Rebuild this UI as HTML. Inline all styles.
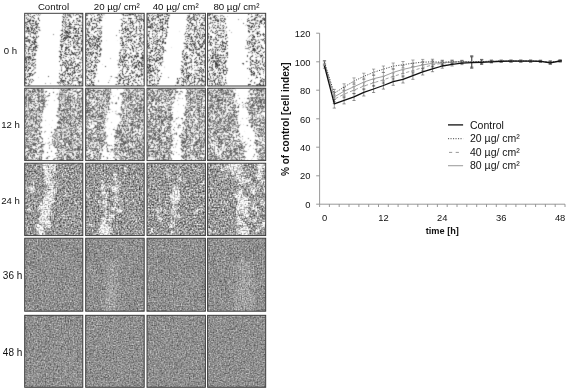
<!DOCTYPE html><html><head><meta charset="utf-8"><title>figure</title><style>html,body{margin:0;padding:0;background:#fff}svg{display:block}text{font-family:"Liberation Sans",sans-serif;fill:#111}</style></head><body>
<svg width="567" height="389" viewBox="0 0 567 389">
<defs>
<clipPath id="c00"><rect x="24.7" y="13.3" width="58.1" height="72.7"/></clipPath>
<filter id="f00" filterUnits="userSpaceOnUse" x="19.7" y="8.3" width="68.1" height="82.7" color-interpolation-filters="sRGB"><feGaussianBlur in="SourceGraphic" stdDeviation="1.0" result="d"/><feTurbulence type="fractalNoise" baseFrequency="0.38" numOctaves="2" seed="1" result="n"/><feColorMatrix in="n" type="matrix" values="1 0 0 0 0 1 0 0 0 0 1 0 0 0 0 0 0 0 0 1" result="ng"/><feTurbulence type="fractalNoise" baseFrequency="0.07" numOctaves="3" seed="31" result="m"/><feColorMatrix in="m" type="matrix" values="1 0 0 0 0 1 0 0 0 0 1 0 0 0 0 0 0 0 0 1" result="mg"/><feComposite in="d" in2="mg" operator="arithmetic" k1="0" k2="1" k3="0.5" k4="-0.250" result="d2"/><feComposite in="d2" in2="ng" operator="arithmetic" k1="0" k2="1" k3="1" k4="-0.44" result="s"/><feComponentTransfer in="s" result="t"><feFuncR type="table" tableValues="1 1 1 1 1 1 1 1 1 1 1 1 1 1 1 1 1 1 1 1 1 1 1 1 1 1 1 1 1 1 1 1 1 1 1 1 1 1 1 1 1 1 1 1 1 1 1 0.91 0.82 0.74 0.65 0.56 0.47 0.38 0.3 0.21 0.12 0.21 0.3 0.38 0.47 0.56 0.65 0.74 0.82 0.91 1 1 1 1 1 1 1 1 1 1 1 1 1 1 1 1 1 1 1 1 1 1 1 1 1 1 1 1 1 1 1 1 1 1 1"/><feFuncG type="table" tableValues="1 1 1 1 1 1 1 1 1 1 1 1 1 1 1 1 1 1 1 1 1 1 1 1 1 1 1 1 1 1 1 1 1 1 1 1 1 1 1 1 1 1 1 1 1 1 1 0.91 0.82 0.74 0.65 0.56 0.47 0.38 0.3 0.21 0.12 0.21 0.3 0.38 0.47 0.56 0.65 0.74 0.82 0.91 1 1 1 1 1 1 1 1 1 1 1 1 1 1 1 1 1 1 1 1 1 1 1 1 1 1 1 1 1 1 1 1 1 1 1"/><feFuncB type="table" tableValues="1 1 1 1 1 1 1 1 1 1 1 1 1 1 1 1 1 1 1 1 1 1 1 1 1 1 1 1 1 1 1 1 1 1 1 1 1 1 1 1 1 1 1 1 1 1 1 0.91 0.82 0.74 0.65 0.56 0.47 0.38 0.3 0.21 0.12 0.21 0.3 0.38 0.47 0.56 0.65 0.74 0.82 0.91 1 1 1 1 1 1 1 1 1 1 1 1 1 1 1 1 1 1 1 1 1 1 1 1 1 1 1 1 1 1 1 1 1 1 1"/></feComponentTransfer><feConvolveMatrix in="t" order="3" kernelMatrix="1 4 1 4 20 4 1 4 1" edgeMode="duplicate" preserveAlpha="true"/></filter>
<clipPath id="c01"><rect x="85.7" y="13.3" width="58.5" height="72.7"/></clipPath>
<filter id="f01" filterUnits="userSpaceOnUse" x="80.7" y="8.3" width="68.5" height="82.7" color-interpolation-filters="sRGB"><feGaussianBlur in="SourceGraphic" stdDeviation="1.0" result="d"/><feTurbulence type="fractalNoise" baseFrequency="0.38" numOctaves="2" seed="2" result="n"/><feColorMatrix in="n" type="matrix" values="1 0 0 0 0 1 0 0 0 0 1 0 0 0 0 0 0 0 0 1" result="ng"/><feTurbulence type="fractalNoise" baseFrequency="0.07" numOctaves="3" seed="32" result="m"/><feColorMatrix in="m" type="matrix" values="1 0 0 0 0 1 0 0 0 0 1 0 0 0 0 0 0 0 0 1" result="mg"/><feComposite in="d" in2="mg" operator="arithmetic" k1="0" k2="1" k3="0.5" k4="-0.250" result="d2"/><feComposite in="d2" in2="ng" operator="arithmetic" k1="0" k2="1" k3="1" k4="-0.44" result="s"/><feComponentTransfer in="s" result="t"><feFuncR type="table" tableValues="1 1 1 1 1 1 1 1 1 1 1 1 1 1 1 1 1 1 1 1 1 1 1 1 1 1 1 1 1 1 1 1 1 1 1 1 1 1 1 1 1 1 1 1 1 1 1 0.91 0.82 0.74 0.65 0.56 0.47 0.38 0.3 0.21 0.12 0.21 0.3 0.38 0.47 0.56 0.65 0.74 0.82 0.91 1 1 1 1 1 1 1 1 1 1 1 1 1 1 1 1 1 1 1 1 1 1 1 1 1 1 1 1 1 1 1 1 1 1 1"/><feFuncG type="table" tableValues="1 1 1 1 1 1 1 1 1 1 1 1 1 1 1 1 1 1 1 1 1 1 1 1 1 1 1 1 1 1 1 1 1 1 1 1 1 1 1 1 1 1 1 1 1 1 1 0.91 0.82 0.74 0.65 0.56 0.47 0.38 0.3 0.21 0.12 0.21 0.3 0.38 0.47 0.56 0.65 0.74 0.82 0.91 1 1 1 1 1 1 1 1 1 1 1 1 1 1 1 1 1 1 1 1 1 1 1 1 1 1 1 1 1 1 1 1 1 1 1"/><feFuncB type="table" tableValues="1 1 1 1 1 1 1 1 1 1 1 1 1 1 1 1 1 1 1 1 1 1 1 1 1 1 1 1 1 1 1 1 1 1 1 1 1 1 1 1 1 1 1 1 1 1 1 0.91 0.82 0.74 0.65 0.56 0.47 0.38 0.3 0.21 0.12 0.21 0.3 0.38 0.47 0.56 0.65 0.74 0.82 0.91 1 1 1 1 1 1 1 1 1 1 1 1 1 1 1 1 1 1 1 1 1 1 1 1 1 1 1 1 1 1 1 1 1 1 1"/></feComponentTransfer><feConvolveMatrix in="t" order="3" kernelMatrix="1 4 1 4 20 4 1 4 1" edgeMode="duplicate" preserveAlpha="true"/></filter>
<clipPath id="c02"><rect x="147.0" y="13.3" width="58.4" height="72.7"/></clipPath>
<filter id="f02" filterUnits="userSpaceOnUse" x="142.0" y="8.3" width="68.4" height="82.7" color-interpolation-filters="sRGB"><feGaussianBlur in="SourceGraphic" stdDeviation="1.0" result="d"/><feTurbulence type="fractalNoise" baseFrequency="0.38" numOctaves="2" seed="3" result="n"/><feColorMatrix in="n" type="matrix" values="1 0 0 0 0 1 0 0 0 0 1 0 0 0 0 0 0 0 0 1" result="ng"/><feTurbulence type="fractalNoise" baseFrequency="0.07" numOctaves="3" seed="33" result="m"/><feColorMatrix in="m" type="matrix" values="1 0 0 0 0 1 0 0 0 0 1 0 0 0 0 0 0 0 0 1" result="mg"/><feComposite in="d" in2="mg" operator="arithmetic" k1="0" k2="1" k3="0.5" k4="-0.250" result="d2"/><feComposite in="d2" in2="ng" operator="arithmetic" k1="0" k2="1" k3="1" k4="-0.44" result="s"/><feComponentTransfer in="s" result="t"><feFuncR type="table" tableValues="1 1 1 1 1 1 1 1 1 1 1 1 1 1 1 1 1 1 1 1 1 1 1 1 1 1 1 1 1 1 1 1 1 1 1 1 1 1 1 1 1 1 1 1 1 1 1 0.91 0.82 0.74 0.65 0.56 0.47 0.38 0.3 0.21 0.12 0.21 0.3 0.38 0.47 0.56 0.65 0.74 0.82 0.91 1 1 1 1 1 1 1 1 1 1 1 1 1 1 1 1 1 1 1 1 1 1 1 1 1 1 1 1 1 1 1 1 1 1 1"/><feFuncG type="table" tableValues="1 1 1 1 1 1 1 1 1 1 1 1 1 1 1 1 1 1 1 1 1 1 1 1 1 1 1 1 1 1 1 1 1 1 1 1 1 1 1 1 1 1 1 1 1 1 1 0.91 0.82 0.74 0.65 0.56 0.47 0.38 0.3 0.21 0.12 0.21 0.3 0.38 0.47 0.56 0.65 0.74 0.82 0.91 1 1 1 1 1 1 1 1 1 1 1 1 1 1 1 1 1 1 1 1 1 1 1 1 1 1 1 1 1 1 1 1 1 1 1"/><feFuncB type="table" tableValues="1 1 1 1 1 1 1 1 1 1 1 1 1 1 1 1 1 1 1 1 1 1 1 1 1 1 1 1 1 1 1 1 1 1 1 1 1 1 1 1 1 1 1 1 1 1 1 0.91 0.82 0.74 0.65 0.56 0.47 0.38 0.3 0.21 0.12 0.21 0.3 0.38 0.47 0.56 0.65 0.74 0.82 0.91 1 1 1 1 1 1 1 1 1 1 1 1 1 1 1 1 1 1 1 1 1 1 1 1 1 1 1 1 1 1 1 1 1 1 1"/></feComponentTransfer><feConvolveMatrix in="t" order="3" kernelMatrix="1 4 1 4 20 4 1 4 1" edgeMode="duplicate" preserveAlpha="true"/></filter>
<clipPath id="c03"><rect x="207.6" y="13.3" width="58.1" height="72.7"/></clipPath>
<filter id="f03" filterUnits="userSpaceOnUse" x="202.6" y="8.3" width="68.1" height="82.7" color-interpolation-filters="sRGB"><feGaussianBlur in="SourceGraphic" stdDeviation="1.0" result="d"/><feTurbulence type="fractalNoise" baseFrequency="0.38" numOctaves="2" seed="4" result="n"/><feColorMatrix in="n" type="matrix" values="1 0 0 0 0 1 0 0 0 0 1 0 0 0 0 0 0 0 0 1" result="ng"/><feTurbulence type="fractalNoise" baseFrequency="0.07" numOctaves="3" seed="34" result="m"/><feColorMatrix in="m" type="matrix" values="1 0 0 0 0 1 0 0 0 0 1 0 0 0 0 0 0 0 0 1" result="mg"/><feComposite in="d" in2="mg" operator="arithmetic" k1="0" k2="1" k3="0.5" k4="-0.250" result="d2"/><feComposite in="d2" in2="ng" operator="arithmetic" k1="0" k2="1" k3="1" k4="-0.44" result="s"/><feComponentTransfer in="s" result="t"><feFuncR type="table" tableValues="1 1 1 1 1 1 1 1 1 1 1 1 1 1 1 1 1 1 1 1 1 1 1 1 1 1 1 1 1 1 1 1 1 1 1 1 1 1 1 1 1 1 1 1 1 1 1 0.91 0.82 0.74 0.65 0.56 0.47 0.38 0.3 0.21 0.12 0.21 0.3 0.38 0.47 0.56 0.65 0.74 0.82 0.91 1 1 1 1 1 1 1 1 1 1 1 1 1 1 1 1 1 1 1 1 1 1 1 1 1 1 1 1 1 1 1 1 1 1 1"/><feFuncG type="table" tableValues="1 1 1 1 1 1 1 1 1 1 1 1 1 1 1 1 1 1 1 1 1 1 1 1 1 1 1 1 1 1 1 1 1 1 1 1 1 1 1 1 1 1 1 1 1 1 1 0.91 0.82 0.74 0.65 0.56 0.47 0.38 0.3 0.21 0.12 0.21 0.3 0.38 0.47 0.56 0.65 0.74 0.82 0.91 1 1 1 1 1 1 1 1 1 1 1 1 1 1 1 1 1 1 1 1 1 1 1 1 1 1 1 1 1 1 1 1 1 1 1"/><feFuncB type="table" tableValues="1 1 1 1 1 1 1 1 1 1 1 1 1 1 1 1 1 1 1 1 1 1 1 1 1 1 1 1 1 1 1 1 1 1 1 1 1 1 1 1 1 1 1 1 1 1 1 0.91 0.82 0.74 0.65 0.56 0.47 0.38 0.3 0.21 0.12 0.21 0.3 0.38 0.47 0.56 0.65 0.74 0.82 0.91 1 1 1 1 1 1 1 1 1 1 1 1 1 1 1 1 1 1 1 1 1 1 1 1 1 1 1 1 1 1 1 1 1 1 1"/></feComponentTransfer><feConvolveMatrix in="t" order="3" kernelMatrix="1 4 1 4 20 4 1 4 1" edgeMode="duplicate" preserveAlpha="true"/></filter>
<clipPath id="c10"><rect x="24.7" y="88.2" width="58.1" height="72.4"/></clipPath>
<filter id="f10" filterUnits="userSpaceOnUse" x="19.7" y="83.2" width="68.1" height="82.4" color-interpolation-filters="sRGB"><feGaussianBlur in="SourceGraphic" stdDeviation="1.3" result="d"/><feTurbulence type="fractalNoise" baseFrequency="0.45" numOctaves="2" seed="5" result="n"/><feColorMatrix in="n" type="matrix" values="1 0 0 0 0 1 0 0 0 0 1 0 0 0 0 0 0 0 0 1" result="ng"/><feTurbulence type="fractalNoise" baseFrequency="0.07" numOctaves="3" seed="35" result="m"/><feColorMatrix in="m" type="matrix" values="1 0 0 0 0 1 0 0 0 0 1 0 0 0 0 0 0 0 0 1" result="mg"/><feComposite in="d" in2="mg" operator="arithmetic" k1="0" k2="1" k3="0.5" k4="-0.250" result="d2"/><feComposite in="d2" in2="ng" operator="arithmetic" k1="0" k2="1" k3="1" k4="-0.44" result="s"/><feComponentTransfer in="s" result="t"><feFuncR type="table" tableValues="0.95 0.95 0.95 0.95 0.95 0.95 0.95 0.95 0.95 0.95 0.95 0.95 0.95 0.95 0.95 0.95 0.95 0.95 0.95 0.95 0.95 0.95 0.95 0.95 0.95 0.95 0.95 0.95 0.95 0.95 0.95 0.95 0.95 0.95 0.95 0.95 0.95 0.95 0.95 0.95 0.95 0.93 0.89 0.84 0.8 0.76 0.71 0.67 0.63 0.58 0.54 0.5 0.45 0.41 0.37 0.32 0.28 0.33 0.37 0.42 0.47 0.51 0.56 0.61 0.65 0.7 0.74 0.79 0.84 0.88 0.93 0.98 1 1 1 1 1 1 1 1 1 1 1 1 1 1 1 1 1 1 1 1 1 1 1 1 1 1 1 1 1"/><feFuncG type="table" tableValues="0.95 0.95 0.95 0.95 0.95 0.95 0.95 0.95 0.95 0.95 0.95 0.95 0.95 0.95 0.95 0.95 0.95 0.95 0.95 0.95 0.95 0.95 0.95 0.95 0.95 0.95 0.95 0.95 0.95 0.95 0.95 0.95 0.95 0.95 0.95 0.95 0.95 0.95 0.95 0.95 0.95 0.93 0.89 0.84 0.8 0.76 0.71 0.67 0.63 0.58 0.54 0.5 0.45 0.41 0.37 0.32 0.28 0.33 0.37 0.42 0.47 0.51 0.56 0.61 0.65 0.7 0.74 0.79 0.84 0.88 0.93 0.98 1 1 1 1 1 1 1 1 1 1 1 1 1 1 1 1 1 1 1 1 1 1 1 1 1 1 1 1 1"/><feFuncB type="table" tableValues="0.95 0.95 0.95 0.95 0.95 0.95 0.95 0.95 0.95 0.95 0.95 0.95 0.95 0.95 0.95 0.95 0.95 0.95 0.95 0.95 0.95 0.95 0.95 0.95 0.95 0.95 0.95 0.95 0.95 0.95 0.95 0.95 0.95 0.95 0.95 0.95 0.95 0.95 0.95 0.95 0.95 0.93 0.89 0.84 0.8 0.76 0.71 0.67 0.63 0.58 0.54 0.5 0.45 0.41 0.37 0.32 0.28 0.33 0.37 0.42 0.47 0.51 0.56 0.61 0.65 0.7 0.74 0.79 0.84 0.88 0.93 0.98 1 1 1 1 1 1 1 1 1 1 1 1 1 1 1 1 1 1 1 1 1 1 1 1 1 1 1 1 1"/></feComponentTransfer><feConvolveMatrix in="t" order="3" kernelMatrix="1 4 1 4 20 4 1 4 1" edgeMode="duplicate" preserveAlpha="true"/></filter>
<clipPath id="c11"><rect x="85.7" y="88.2" width="58.5" height="72.4"/></clipPath>
<filter id="f11" filterUnits="userSpaceOnUse" x="80.7" y="83.2" width="68.5" height="82.4" color-interpolation-filters="sRGB"><feGaussianBlur in="SourceGraphic" stdDeviation="1.3" result="d"/><feTurbulence type="fractalNoise" baseFrequency="0.45" numOctaves="2" seed="6" result="n"/><feColorMatrix in="n" type="matrix" values="1 0 0 0 0 1 0 0 0 0 1 0 0 0 0 0 0 0 0 1" result="ng"/><feTurbulence type="fractalNoise" baseFrequency="0.07" numOctaves="3" seed="36" result="m"/><feColorMatrix in="m" type="matrix" values="1 0 0 0 0 1 0 0 0 0 1 0 0 0 0 0 0 0 0 1" result="mg"/><feComposite in="d" in2="mg" operator="arithmetic" k1="0" k2="1" k3="0.5" k4="-0.250" result="d2"/><feComposite in="d2" in2="ng" operator="arithmetic" k1="0" k2="1" k3="1" k4="-0.44" result="s"/><feComponentTransfer in="s" result="t"><feFuncR type="table" tableValues="0.95 0.95 0.95 0.95 0.95 0.95 0.95 0.95 0.95 0.95 0.95 0.95 0.95 0.95 0.95 0.95 0.95 0.95 0.95 0.95 0.95 0.95 0.95 0.95 0.95 0.95 0.95 0.95 0.95 0.95 0.95 0.95 0.95 0.95 0.95 0.95 0.95 0.95 0.95 0.95 0.95 0.93 0.89 0.84 0.8 0.76 0.71 0.67 0.63 0.58 0.54 0.5 0.45 0.41 0.37 0.32 0.28 0.33 0.37 0.42 0.47 0.51 0.56 0.61 0.65 0.7 0.74 0.79 0.84 0.88 0.93 0.98 1 1 1 1 1 1 1 1 1 1 1 1 1 1 1 1 1 1 1 1 1 1 1 1 1 1 1 1 1"/><feFuncG type="table" tableValues="0.95 0.95 0.95 0.95 0.95 0.95 0.95 0.95 0.95 0.95 0.95 0.95 0.95 0.95 0.95 0.95 0.95 0.95 0.95 0.95 0.95 0.95 0.95 0.95 0.95 0.95 0.95 0.95 0.95 0.95 0.95 0.95 0.95 0.95 0.95 0.95 0.95 0.95 0.95 0.95 0.95 0.93 0.89 0.84 0.8 0.76 0.71 0.67 0.63 0.58 0.54 0.5 0.45 0.41 0.37 0.32 0.28 0.33 0.37 0.42 0.47 0.51 0.56 0.61 0.65 0.7 0.74 0.79 0.84 0.88 0.93 0.98 1 1 1 1 1 1 1 1 1 1 1 1 1 1 1 1 1 1 1 1 1 1 1 1 1 1 1 1 1"/><feFuncB type="table" tableValues="0.95 0.95 0.95 0.95 0.95 0.95 0.95 0.95 0.95 0.95 0.95 0.95 0.95 0.95 0.95 0.95 0.95 0.95 0.95 0.95 0.95 0.95 0.95 0.95 0.95 0.95 0.95 0.95 0.95 0.95 0.95 0.95 0.95 0.95 0.95 0.95 0.95 0.95 0.95 0.95 0.95 0.93 0.89 0.84 0.8 0.76 0.71 0.67 0.63 0.58 0.54 0.5 0.45 0.41 0.37 0.32 0.28 0.33 0.37 0.42 0.47 0.51 0.56 0.61 0.65 0.7 0.74 0.79 0.84 0.88 0.93 0.98 1 1 1 1 1 1 1 1 1 1 1 1 1 1 1 1 1 1 1 1 1 1 1 1 1 1 1 1 1"/></feComponentTransfer><feConvolveMatrix in="t" order="3" kernelMatrix="1 4 1 4 20 4 1 4 1" edgeMode="duplicate" preserveAlpha="true"/></filter>
<clipPath id="c12"><rect x="147.0" y="88.2" width="58.4" height="72.4"/></clipPath>
<filter id="f12" filterUnits="userSpaceOnUse" x="142.0" y="83.2" width="68.4" height="82.4" color-interpolation-filters="sRGB"><feGaussianBlur in="SourceGraphic" stdDeviation="1.3" result="d"/><feTurbulence type="fractalNoise" baseFrequency="0.45" numOctaves="2" seed="7" result="n"/><feColorMatrix in="n" type="matrix" values="1 0 0 0 0 1 0 0 0 0 1 0 0 0 0 0 0 0 0 1" result="ng"/><feTurbulence type="fractalNoise" baseFrequency="0.07" numOctaves="3" seed="37" result="m"/><feColorMatrix in="m" type="matrix" values="1 0 0 0 0 1 0 0 0 0 1 0 0 0 0 0 0 0 0 1" result="mg"/><feComposite in="d" in2="mg" operator="arithmetic" k1="0" k2="1" k3="0.5" k4="-0.250" result="d2"/><feComposite in="d2" in2="ng" operator="arithmetic" k1="0" k2="1" k3="1" k4="-0.44" result="s"/><feComponentTransfer in="s" result="t"><feFuncR type="table" tableValues="0.95 0.95 0.95 0.95 0.95 0.95 0.95 0.95 0.95 0.95 0.95 0.95 0.95 0.95 0.95 0.95 0.95 0.95 0.95 0.95 0.95 0.95 0.95 0.95 0.95 0.95 0.95 0.95 0.95 0.95 0.95 0.95 0.95 0.95 0.95 0.95 0.95 0.95 0.95 0.95 0.95 0.93 0.89 0.84 0.8 0.76 0.71 0.67 0.63 0.58 0.54 0.5 0.45 0.41 0.37 0.32 0.28 0.33 0.37 0.42 0.47 0.51 0.56 0.61 0.65 0.7 0.74 0.79 0.84 0.88 0.93 0.98 1 1 1 1 1 1 1 1 1 1 1 1 1 1 1 1 1 1 1 1 1 1 1 1 1 1 1 1 1"/><feFuncG type="table" tableValues="0.95 0.95 0.95 0.95 0.95 0.95 0.95 0.95 0.95 0.95 0.95 0.95 0.95 0.95 0.95 0.95 0.95 0.95 0.95 0.95 0.95 0.95 0.95 0.95 0.95 0.95 0.95 0.95 0.95 0.95 0.95 0.95 0.95 0.95 0.95 0.95 0.95 0.95 0.95 0.95 0.95 0.93 0.89 0.84 0.8 0.76 0.71 0.67 0.63 0.58 0.54 0.5 0.45 0.41 0.37 0.32 0.28 0.33 0.37 0.42 0.47 0.51 0.56 0.61 0.65 0.7 0.74 0.79 0.84 0.88 0.93 0.98 1 1 1 1 1 1 1 1 1 1 1 1 1 1 1 1 1 1 1 1 1 1 1 1 1 1 1 1 1"/><feFuncB type="table" tableValues="0.95 0.95 0.95 0.95 0.95 0.95 0.95 0.95 0.95 0.95 0.95 0.95 0.95 0.95 0.95 0.95 0.95 0.95 0.95 0.95 0.95 0.95 0.95 0.95 0.95 0.95 0.95 0.95 0.95 0.95 0.95 0.95 0.95 0.95 0.95 0.95 0.95 0.95 0.95 0.95 0.95 0.93 0.89 0.84 0.8 0.76 0.71 0.67 0.63 0.58 0.54 0.5 0.45 0.41 0.37 0.32 0.28 0.33 0.37 0.42 0.47 0.51 0.56 0.61 0.65 0.7 0.74 0.79 0.84 0.88 0.93 0.98 1 1 1 1 1 1 1 1 1 1 1 1 1 1 1 1 1 1 1 1 1 1 1 1 1 1 1 1 1"/></feComponentTransfer><feConvolveMatrix in="t" order="3" kernelMatrix="1 4 1 4 20 4 1 4 1" edgeMode="duplicate" preserveAlpha="true"/></filter>
<clipPath id="c13"><rect x="207.6" y="88.2" width="58.1" height="72.4"/></clipPath>
<filter id="f13" filterUnits="userSpaceOnUse" x="202.6" y="83.2" width="68.1" height="82.4" color-interpolation-filters="sRGB"><feGaussianBlur in="SourceGraphic" stdDeviation="1.3" result="d"/><feTurbulence type="fractalNoise" baseFrequency="0.45" numOctaves="2" seed="8" result="n"/><feColorMatrix in="n" type="matrix" values="1 0 0 0 0 1 0 0 0 0 1 0 0 0 0 0 0 0 0 1" result="ng"/><feTurbulence type="fractalNoise" baseFrequency="0.07" numOctaves="3" seed="38" result="m"/><feColorMatrix in="m" type="matrix" values="1 0 0 0 0 1 0 0 0 0 1 0 0 0 0 0 0 0 0 1" result="mg"/><feComposite in="d" in2="mg" operator="arithmetic" k1="0" k2="1" k3="0.5" k4="-0.250" result="d2"/><feComposite in="d2" in2="ng" operator="arithmetic" k1="0" k2="1" k3="1" k4="-0.44" result="s"/><feComponentTransfer in="s" result="t"><feFuncR type="table" tableValues="0.95 0.95 0.95 0.95 0.95 0.95 0.95 0.95 0.95 0.95 0.95 0.95 0.95 0.95 0.95 0.95 0.95 0.95 0.95 0.95 0.95 0.95 0.95 0.95 0.95 0.95 0.95 0.95 0.95 0.95 0.95 0.95 0.95 0.95 0.95 0.95 0.95 0.95 0.95 0.95 0.95 0.93 0.89 0.84 0.8 0.76 0.71 0.67 0.63 0.58 0.54 0.5 0.45 0.41 0.37 0.32 0.28 0.33 0.37 0.42 0.47 0.51 0.56 0.61 0.65 0.7 0.74 0.79 0.84 0.88 0.93 0.98 1 1 1 1 1 1 1 1 1 1 1 1 1 1 1 1 1 1 1 1 1 1 1 1 1 1 1 1 1"/><feFuncG type="table" tableValues="0.95 0.95 0.95 0.95 0.95 0.95 0.95 0.95 0.95 0.95 0.95 0.95 0.95 0.95 0.95 0.95 0.95 0.95 0.95 0.95 0.95 0.95 0.95 0.95 0.95 0.95 0.95 0.95 0.95 0.95 0.95 0.95 0.95 0.95 0.95 0.95 0.95 0.95 0.95 0.95 0.95 0.93 0.89 0.84 0.8 0.76 0.71 0.67 0.63 0.58 0.54 0.5 0.45 0.41 0.37 0.32 0.28 0.33 0.37 0.42 0.47 0.51 0.56 0.61 0.65 0.7 0.74 0.79 0.84 0.88 0.93 0.98 1 1 1 1 1 1 1 1 1 1 1 1 1 1 1 1 1 1 1 1 1 1 1 1 1 1 1 1 1"/><feFuncB type="table" tableValues="0.95 0.95 0.95 0.95 0.95 0.95 0.95 0.95 0.95 0.95 0.95 0.95 0.95 0.95 0.95 0.95 0.95 0.95 0.95 0.95 0.95 0.95 0.95 0.95 0.95 0.95 0.95 0.95 0.95 0.95 0.95 0.95 0.95 0.95 0.95 0.95 0.95 0.95 0.95 0.95 0.95 0.93 0.89 0.84 0.8 0.76 0.71 0.67 0.63 0.58 0.54 0.5 0.45 0.41 0.37 0.32 0.28 0.33 0.37 0.42 0.47 0.51 0.56 0.61 0.65 0.7 0.74 0.79 0.84 0.88 0.93 0.98 1 1 1 1 1 1 1 1 1 1 1 1 1 1 1 1 1 1 1 1 1 1 1 1 1 1 1 1 1"/></feComponentTransfer><feConvolveMatrix in="t" order="3" kernelMatrix="1 4 1 4 20 4 1 4 1" edgeMode="duplicate" preserveAlpha="true"/></filter>
<clipPath id="c20"><rect x="24.7" y="163.2" width="58.1" height="72.4"/></clipPath>
<filter id="f20" filterUnits="userSpaceOnUse" x="19.7" y="158.2" width="68.1" height="82.4" color-interpolation-filters="sRGB"><feGaussianBlur in="SourceGraphic" stdDeviation="1.6" result="d"/><feTurbulence type="fractalNoise" baseFrequency="0.66" numOctaves="2" seed="9" result="n"/><feColorMatrix in="n" type="matrix" values="1 0 0 0 0 1 0 0 0 0 1 0 0 0 0 0 0 0 0 1" result="ng"/><feTurbulence type="fractalNoise" baseFrequency="0.14" numOctaves="3" seed="39" result="m"/><feColorMatrix in="m" type="matrix" values="1 0 0 0 0 1 0 0 0 0 1 0 0 0 0 0 0 0 0 1" result="mg"/><feComposite in="d" in2="mg" operator="arithmetic" k1="0" k2="1" k3="0.42" k4="-0.210" result="d2"/><feComponentTransfer in="d2" result="d2"><feFuncR type="table" tableValues="0.5 0.5 0.5 0.5 0.5 0.5 0.5 0.5 0.5 0.5 0.5 0.5 0.5 0.5 0.5 0.5 0.5 0.5 0.5 0.5 0.5 0.5 0.5 0.5 0.5 0.5 0.5 0.5 0.5 0.518 0.562 0.62 0.678 0.722 0.74 0.74 0.74 0.74 0.74 0.74 0.74 0.74 0.74 0.74 0.74 0.74 0.74 0.74 0.74 0.74 0.74"/><feFuncG type="table" tableValues="0.5 0.5 0.5 0.5 0.5 0.5 0.5 0.5 0.5 0.5 0.5 0.5 0.5 0.5 0.5 0.5 0.5 0.5 0.5 0.5 0.5 0.5 0.5 0.5 0.5 0.5 0.5 0.5 0.5 0.518 0.562 0.62 0.678 0.722 0.74 0.74 0.74 0.74 0.74 0.74 0.74 0.74 0.74 0.74 0.74 0.74 0.74 0.74 0.74 0.74 0.74"/><feFuncB type="table" tableValues="0.5 0.5 0.5 0.5 0.5 0.5 0.5 0.5 0.5 0.5 0.5 0.5 0.5 0.5 0.5 0.5 0.5 0.5 0.5 0.5 0.5 0.5 0.5 0.5 0.5 0.5 0.5 0.5 0.5 0.518 0.562 0.62 0.678 0.722 0.74 0.74 0.74 0.74 0.74 0.74 0.74 0.74 0.74 0.74 0.74 0.74 0.74 0.74 0.74 0.74 0.74"/></feComponentTransfer><feComposite in="d2" in2="ng" operator="arithmetic" k1="0" k2="1" k3="1" k4="-0.44" result="s"/><feComponentTransfer in="s" result="t"><feFuncR type="table" tableValues="0 0 0 0 0 0 0 0 0 0 0 0.01 0.03 0.04 0.05 0.07 0.08 0.09 0.11 0.12 0.13 0.14 0.16 0.17 0.18 0.2 0.21 0.22 0.24 0.25 0.26 0.27 0.29 0.3 0.31 0.33 0.34 0.35 0.37 0.38 0.39 0.4 0.42 0.43 0.44 0.46 0.47 0.48 0.5 0.51 0.52 0.53 0.55 0.56 0.57 0.59 0.6 0.61 0.63 0.64 0.65 0.66 0.68 0.69 0.7 0.72 0.73 0.74 0.76 0.77 0.78 0.79 0.81 0.82 0.83 0.85 0.86 0.87 0.89 0.9 0.91 0.93 0.94 0.95 0.96 0.98 0.99 1 1 1 1 1 1 1 1 1 1 1 1 1 1"/><feFuncG type="table" tableValues="0 0 0 0 0 0 0 0 0 0 0 0.01 0.03 0.04 0.05 0.07 0.08 0.09 0.11 0.12 0.13 0.14 0.16 0.17 0.18 0.2 0.21 0.22 0.24 0.25 0.26 0.27 0.29 0.3 0.31 0.33 0.34 0.35 0.37 0.38 0.39 0.4 0.42 0.43 0.44 0.46 0.47 0.48 0.5 0.51 0.52 0.53 0.55 0.56 0.57 0.59 0.6 0.61 0.63 0.64 0.65 0.66 0.68 0.69 0.7 0.72 0.73 0.74 0.76 0.77 0.78 0.79 0.81 0.82 0.83 0.85 0.86 0.87 0.89 0.9 0.91 0.93 0.94 0.95 0.96 0.98 0.99 1 1 1 1 1 1 1 1 1 1 1 1 1 1"/><feFuncB type="table" tableValues="0 0 0 0 0 0 0 0 0 0 0 0.01 0.03 0.04 0.05 0.07 0.08 0.09 0.11 0.12 0.13 0.14 0.16 0.17 0.18 0.2 0.21 0.22 0.24 0.25 0.26 0.27 0.29 0.3 0.31 0.33 0.34 0.35 0.37 0.38 0.39 0.4 0.42 0.43 0.44 0.46 0.47 0.48 0.5 0.51 0.52 0.53 0.55 0.56 0.57 0.59 0.6 0.61 0.63 0.64 0.65 0.66 0.68 0.69 0.7 0.72 0.73 0.74 0.76 0.77 0.78 0.79 0.81 0.82 0.83 0.85 0.86 0.87 0.89 0.9 0.91 0.93 0.94 0.95 0.96 0.98 0.99 1 1 1 1 1 1 1 1 1 1 1 1 1 1"/></feComponentTransfer><feConvolveMatrix in="t" order="3" kernelMatrix="0 1 0 1 10 1 0 1 0" edgeMode="duplicate" preserveAlpha="true"/></filter>
<clipPath id="c21"><rect x="85.7" y="163.2" width="58.5" height="72.4"/></clipPath>
<filter id="f21" filterUnits="userSpaceOnUse" x="80.7" y="158.2" width="68.5" height="82.4" color-interpolation-filters="sRGB"><feGaussianBlur in="SourceGraphic" stdDeviation="1.6" result="d"/><feTurbulence type="fractalNoise" baseFrequency="0.66" numOctaves="2" seed="10" result="n"/><feColorMatrix in="n" type="matrix" values="1 0 0 0 0 1 0 0 0 0 1 0 0 0 0 0 0 0 0 1" result="ng"/><feTurbulence type="fractalNoise" baseFrequency="0.14" numOctaves="3" seed="40" result="m"/><feColorMatrix in="m" type="matrix" values="1 0 0 0 0 1 0 0 0 0 1 0 0 0 0 0 0 0 0 1" result="mg"/><feComposite in="d" in2="mg" operator="arithmetic" k1="0" k2="1" k3="0.42" k4="-0.210" result="d2"/><feComponentTransfer in="d2" result="d2"><feFuncR type="table" tableValues="0.5 0.5 0.5 0.5 0.5 0.5 0.5 0.5 0.5 0.5 0.5 0.5 0.5 0.5 0.5 0.5 0.5 0.5 0.5 0.5 0.5 0.5 0.5 0.5 0.5 0.5 0.5 0.5 0.5 0.518 0.562 0.62 0.678 0.722 0.74 0.74 0.74 0.74 0.74 0.74 0.74 0.74 0.74 0.74 0.74 0.74 0.74 0.74 0.74 0.74 0.74"/><feFuncG type="table" tableValues="0.5 0.5 0.5 0.5 0.5 0.5 0.5 0.5 0.5 0.5 0.5 0.5 0.5 0.5 0.5 0.5 0.5 0.5 0.5 0.5 0.5 0.5 0.5 0.5 0.5 0.5 0.5 0.5 0.5 0.518 0.562 0.62 0.678 0.722 0.74 0.74 0.74 0.74 0.74 0.74 0.74 0.74 0.74 0.74 0.74 0.74 0.74 0.74 0.74 0.74 0.74"/><feFuncB type="table" tableValues="0.5 0.5 0.5 0.5 0.5 0.5 0.5 0.5 0.5 0.5 0.5 0.5 0.5 0.5 0.5 0.5 0.5 0.5 0.5 0.5 0.5 0.5 0.5 0.5 0.5 0.5 0.5 0.5 0.5 0.518 0.562 0.62 0.678 0.722 0.74 0.74 0.74 0.74 0.74 0.74 0.74 0.74 0.74 0.74 0.74 0.74 0.74 0.74 0.74 0.74 0.74"/></feComponentTransfer><feComposite in="d2" in2="ng" operator="arithmetic" k1="0" k2="1" k3="1" k4="-0.44" result="s"/><feComponentTransfer in="s" result="t"><feFuncR type="table" tableValues="0 0 0 0 0 0 0 0 0 0 0 0.01 0.03 0.04 0.05 0.07 0.08 0.09 0.11 0.12 0.13 0.14 0.16 0.17 0.18 0.2 0.21 0.22 0.24 0.25 0.26 0.27 0.29 0.3 0.31 0.33 0.34 0.35 0.37 0.38 0.39 0.4 0.42 0.43 0.44 0.46 0.47 0.48 0.5 0.51 0.52 0.53 0.55 0.56 0.57 0.59 0.6 0.61 0.63 0.64 0.65 0.66 0.68 0.69 0.7 0.72 0.73 0.74 0.76 0.77 0.78 0.79 0.81 0.82 0.83 0.85 0.86 0.87 0.89 0.9 0.91 0.93 0.94 0.95 0.96 0.98 0.99 1 1 1 1 1 1 1 1 1 1 1 1 1 1"/><feFuncG type="table" tableValues="0 0 0 0 0 0 0 0 0 0 0 0.01 0.03 0.04 0.05 0.07 0.08 0.09 0.11 0.12 0.13 0.14 0.16 0.17 0.18 0.2 0.21 0.22 0.24 0.25 0.26 0.27 0.29 0.3 0.31 0.33 0.34 0.35 0.37 0.38 0.39 0.4 0.42 0.43 0.44 0.46 0.47 0.48 0.5 0.51 0.52 0.53 0.55 0.56 0.57 0.59 0.6 0.61 0.63 0.64 0.65 0.66 0.68 0.69 0.7 0.72 0.73 0.74 0.76 0.77 0.78 0.79 0.81 0.82 0.83 0.85 0.86 0.87 0.89 0.9 0.91 0.93 0.94 0.95 0.96 0.98 0.99 1 1 1 1 1 1 1 1 1 1 1 1 1 1"/><feFuncB type="table" tableValues="0 0 0 0 0 0 0 0 0 0 0 0.01 0.03 0.04 0.05 0.07 0.08 0.09 0.11 0.12 0.13 0.14 0.16 0.17 0.18 0.2 0.21 0.22 0.24 0.25 0.26 0.27 0.29 0.3 0.31 0.33 0.34 0.35 0.37 0.38 0.39 0.4 0.42 0.43 0.44 0.46 0.47 0.48 0.5 0.51 0.52 0.53 0.55 0.56 0.57 0.59 0.6 0.61 0.63 0.64 0.65 0.66 0.68 0.69 0.7 0.72 0.73 0.74 0.76 0.77 0.78 0.79 0.81 0.82 0.83 0.85 0.86 0.87 0.89 0.9 0.91 0.93 0.94 0.95 0.96 0.98 0.99 1 1 1 1 1 1 1 1 1 1 1 1 1 1"/></feComponentTransfer><feConvolveMatrix in="t" order="3" kernelMatrix="0 1 0 1 10 1 0 1 0" edgeMode="duplicate" preserveAlpha="true"/></filter>
<clipPath id="c22"><rect x="147.0" y="163.2" width="58.4" height="72.4"/></clipPath>
<filter id="f22" filterUnits="userSpaceOnUse" x="142.0" y="158.2" width="68.4" height="82.4" color-interpolation-filters="sRGB"><feGaussianBlur in="SourceGraphic" stdDeviation="1.6" result="d"/><feTurbulence type="fractalNoise" baseFrequency="0.66" numOctaves="2" seed="11" result="n"/><feColorMatrix in="n" type="matrix" values="1 0 0 0 0 1 0 0 0 0 1 0 0 0 0 0 0 0 0 1" result="ng"/><feTurbulence type="fractalNoise" baseFrequency="0.14" numOctaves="3" seed="41" result="m"/><feColorMatrix in="m" type="matrix" values="1 0 0 0 0 1 0 0 0 0 1 0 0 0 0 0 0 0 0 1" result="mg"/><feComposite in="d" in2="mg" operator="arithmetic" k1="0" k2="1" k3="0.42" k4="-0.210" result="d2"/><feComponentTransfer in="d2" result="d2"><feFuncR type="table" tableValues="0.5 0.5 0.5 0.5 0.5 0.5 0.5 0.5 0.5 0.5 0.5 0.5 0.5 0.5 0.5 0.5 0.5 0.5 0.5 0.5 0.5 0.5 0.5 0.5 0.5 0.5 0.5 0.5 0.5 0.518 0.562 0.62 0.678 0.722 0.74 0.74 0.74 0.74 0.74 0.74 0.74 0.74 0.74 0.74 0.74 0.74 0.74 0.74 0.74 0.74 0.74"/><feFuncG type="table" tableValues="0.5 0.5 0.5 0.5 0.5 0.5 0.5 0.5 0.5 0.5 0.5 0.5 0.5 0.5 0.5 0.5 0.5 0.5 0.5 0.5 0.5 0.5 0.5 0.5 0.5 0.5 0.5 0.5 0.5 0.518 0.562 0.62 0.678 0.722 0.74 0.74 0.74 0.74 0.74 0.74 0.74 0.74 0.74 0.74 0.74 0.74 0.74 0.74 0.74 0.74 0.74"/><feFuncB type="table" tableValues="0.5 0.5 0.5 0.5 0.5 0.5 0.5 0.5 0.5 0.5 0.5 0.5 0.5 0.5 0.5 0.5 0.5 0.5 0.5 0.5 0.5 0.5 0.5 0.5 0.5 0.5 0.5 0.5 0.5 0.518 0.562 0.62 0.678 0.722 0.74 0.74 0.74 0.74 0.74 0.74 0.74 0.74 0.74 0.74 0.74 0.74 0.74 0.74 0.74 0.74 0.74"/></feComponentTransfer><feComposite in="d2" in2="ng" operator="arithmetic" k1="0" k2="1" k3="1" k4="-0.44" result="s"/><feComponentTransfer in="s" result="t"><feFuncR type="table" tableValues="0 0 0 0 0 0 0 0 0 0 0 0.01 0.03 0.04 0.05 0.07 0.08 0.09 0.11 0.12 0.13 0.14 0.16 0.17 0.18 0.2 0.21 0.22 0.24 0.25 0.26 0.27 0.29 0.3 0.31 0.33 0.34 0.35 0.37 0.38 0.39 0.4 0.42 0.43 0.44 0.46 0.47 0.48 0.5 0.51 0.52 0.53 0.55 0.56 0.57 0.59 0.6 0.61 0.63 0.64 0.65 0.66 0.68 0.69 0.7 0.72 0.73 0.74 0.76 0.77 0.78 0.79 0.81 0.82 0.83 0.85 0.86 0.87 0.89 0.9 0.91 0.93 0.94 0.95 0.96 0.98 0.99 1 1 1 1 1 1 1 1 1 1 1 1 1 1"/><feFuncG type="table" tableValues="0 0 0 0 0 0 0 0 0 0 0 0.01 0.03 0.04 0.05 0.07 0.08 0.09 0.11 0.12 0.13 0.14 0.16 0.17 0.18 0.2 0.21 0.22 0.24 0.25 0.26 0.27 0.29 0.3 0.31 0.33 0.34 0.35 0.37 0.38 0.39 0.4 0.42 0.43 0.44 0.46 0.47 0.48 0.5 0.51 0.52 0.53 0.55 0.56 0.57 0.59 0.6 0.61 0.63 0.64 0.65 0.66 0.68 0.69 0.7 0.72 0.73 0.74 0.76 0.77 0.78 0.79 0.81 0.82 0.83 0.85 0.86 0.87 0.89 0.9 0.91 0.93 0.94 0.95 0.96 0.98 0.99 1 1 1 1 1 1 1 1 1 1 1 1 1 1"/><feFuncB type="table" tableValues="0 0 0 0 0 0 0 0 0 0 0 0.01 0.03 0.04 0.05 0.07 0.08 0.09 0.11 0.12 0.13 0.14 0.16 0.17 0.18 0.2 0.21 0.22 0.24 0.25 0.26 0.27 0.29 0.3 0.31 0.33 0.34 0.35 0.37 0.38 0.39 0.4 0.42 0.43 0.44 0.46 0.47 0.48 0.5 0.51 0.52 0.53 0.55 0.56 0.57 0.59 0.6 0.61 0.63 0.64 0.65 0.66 0.68 0.69 0.7 0.72 0.73 0.74 0.76 0.77 0.78 0.79 0.81 0.82 0.83 0.85 0.86 0.87 0.89 0.9 0.91 0.93 0.94 0.95 0.96 0.98 0.99 1 1 1 1 1 1 1 1 1 1 1 1 1 1"/></feComponentTransfer><feConvolveMatrix in="t" order="3" kernelMatrix="0 1 0 1 10 1 0 1 0" edgeMode="duplicate" preserveAlpha="true"/></filter>
<clipPath id="c23"><rect x="207.6" y="163.2" width="58.1" height="72.4"/></clipPath>
<filter id="f23" filterUnits="userSpaceOnUse" x="202.6" y="158.2" width="68.1" height="82.4" color-interpolation-filters="sRGB"><feGaussianBlur in="SourceGraphic" stdDeviation="1.6" result="d"/><feTurbulence type="fractalNoise" baseFrequency="0.66" numOctaves="2" seed="12" result="n"/><feColorMatrix in="n" type="matrix" values="1 0 0 0 0 1 0 0 0 0 1 0 0 0 0 0 0 0 0 1" result="ng"/><feTurbulence type="fractalNoise" baseFrequency="0.14" numOctaves="3" seed="42" result="m"/><feColorMatrix in="m" type="matrix" values="1 0 0 0 0 1 0 0 0 0 1 0 0 0 0 0 0 0 0 1" result="mg"/><feComposite in="d" in2="mg" operator="arithmetic" k1="0" k2="1" k3="0.42" k4="-0.210" result="d2"/><feComponentTransfer in="d2" result="d2"><feFuncR type="table" tableValues="0.5 0.5 0.5 0.5 0.5 0.5 0.5 0.5 0.5 0.5 0.5 0.5 0.5 0.5 0.5 0.5 0.5 0.5 0.5 0.5 0.5 0.5 0.5 0.5 0.5 0.5 0.5 0.5 0.5 0.518 0.562 0.62 0.678 0.722 0.74 0.74 0.74 0.74 0.74 0.74 0.74 0.74 0.74 0.74 0.74 0.74 0.74 0.74 0.74 0.74 0.74"/><feFuncG type="table" tableValues="0.5 0.5 0.5 0.5 0.5 0.5 0.5 0.5 0.5 0.5 0.5 0.5 0.5 0.5 0.5 0.5 0.5 0.5 0.5 0.5 0.5 0.5 0.5 0.5 0.5 0.5 0.5 0.5 0.5 0.518 0.562 0.62 0.678 0.722 0.74 0.74 0.74 0.74 0.74 0.74 0.74 0.74 0.74 0.74 0.74 0.74 0.74 0.74 0.74 0.74 0.74"/><feFuncB type="table" tableValues="0.5 0.5 0.5 0.5 0.5 0.5 0.5 0.5 0.5 0.5 0.5 0.5 0.5 0.5 0.5 0.5 0.5 0.5 0.5 0.5 0.5 0.5 0.5 0.5 0.5 0.5 0.5 0.5 0.5 0.518 0.562 0.62 0.678 0.722 0.74 0.74 0.74 0.74 0.74 0.74 0.74 0.74 0.74 0.74 0.74 0.74 0.74 0.74 0.74 0.74 0.74"/></feComponentTransfer><feComposite in="d2" in2="ng" operator="arithmetic" k1="0" k2="1" k3="1" k4="-0.44" result="s"/><feComponentTransfer in="s" result="t"><feFuncR type="table" tableValues="0 0 0 0 0 0 0 0 0 0 0 0.01 0.03 0.04 0.05 0.07 0.08 0.09 0.11 0.12 0.13 0.14 0.16 0.17 0.18 0.2 0.21 0.22 0.24 0.25 0.26 0.27 0.29 0.3 0.31 0.33 0.34 0.35 0.37 0.38 0.39 0.4 0.42 0.43 0.44 0.46 0.47 0.48 0.5 0.51 0.52 0.53 0.55 0.56 0.57 0.59 0.6 0.61 0.63 0.64 0.65 0.66 0.68 0.69 0.7 0.72 0.73 0.74 0.76 0.77 0.78 0.79 0.81 0.82 0.83 0.85 0.86 0.87 0.89 0.9 0.91 0.93 0.94 0.95 0.96 0.98 0.99 1 1 1 1 1 1 1 1 1 1 1 1 1 1"/><feFuncG type="table" tableValues="0 0 0 0 0 0 0 0 0 0 0 0.01 0.03 0.04 0.05 0.07 0.08 0.09 0.11 0.12 0.13 0.14 0.16 0.17 0.18 0.2 0.21 0.22 0.24 0.25 0.26 0.27 0.29 0.3 0.31 0.33 0.34 0.35 0.37 0.38 0.39 0.4 0.42 0.43 0.44 0.46 0.47 0.48 0.5 0.51 0.52 0.53 0.55 0.56 0.57 0.59 0.6 0.61 0.63 0.64 0.65 0.66 0.68 0.69 0.7 0.72 0.73 0.74 0.76 0.77 0.78 0.79 0.81 0.82 0.83 0.85 0.86 0.87 0.89 0.9 0.91 0.93 0.94 0.95 0.96 0.98 0.99 1 1 1 1 1 1 1 1 1 1 1 1 1 1"/><feFuncB type="table" tableValues="0 0 0 0 0 0 0 0 0 0 0 0.01 0.03 0.04 0.05 0.07 0.08 0.09 0.11 0.12 0.13 0.14 0.16 0.17 0.18 0.2 0.21 0.22 0.24 0.25 0.26 0.27 0.29 0.3 0.31 0.33 0.34 0.35 0.37 0.38 0.39 0.4 0.42 0.43 0.44 0.46 0.47 0.48 0.5 0.51 0.52 0.53 0.55 0.56 0.57 0.59 0.6 0.61 0.63 0.64 0.65 0.66 0.68 0.69 0.7 0.72 0.73 0.74 0.76 0.77 0.78 0.79 0.81 0.82 0.83 0.85 0.86 0.87 0.89 0.9 0.91 0.93 0.94 0.95 0.96 0.98 0.99 1 1 1 1 1 1 1 1 1 1 1 1 1 1"/></feComponentTransfer><feConvolveMatrix in="t" order="3" kernelMatrix="0 1 0 1 10 1 0 1 0" edgeMode="duplicate" preserveAlpha="true"/></filter>
<clipPath id="c30"><rect x="24.7" y="238.2" width="58.1" height="73.0"/></clipPath>
<filter id="f30" filterUnits="userSpaceOnUse" x="19.7" y="233.2" width="68.1" height="83.0" color-interpolation-filters="sRGB"><feGaussianBlur in="SourceGraphic" stdDeviation="2" result="d"/><feTurbulence type="fractalNoise" baseFrequency="0.75" numOctaves="2" seed="13" result="n"/><feColorMatrix in="n" type="matrix" values="1 0 0 0 0 1 0 0 0 0 1 0 0 0 0 0 0 0 0 1" result="ng"/><feTurbulence type="fractalNoise" baseFrequency="0.07" numOctaves="3" seed="43" result="m"/><feColorMatrix in="m" type="matrix" values="1 0 0 0 0 1 0 0 0 0 1 0 0 0 0 0 0 0 0 1" result="mg"/><feComposite in="d" in2="mg" operator="arithmetic" k1="0" k2="1" k3="0.07" k4="-0.035" result="d2"/><feComposite in="d2" in2="ng" operator="arithmetic" k1="0" k2="1" k3="1" k4="-0.44" result="s"/><feComponentTransfer in="s" result="t"><feFuncR type="table" tableValues="0.08 0.09 0.1 0.11 0.12 0.13 0.14 0.14 0.15 0.16 0.17 0.18 0.19 0.19 0.2 0.21 0.22 0.23 0.24 0.25 0.25 0.26 0.27 0.28 0.29 0.3 0.31 0.31 0.32 0.33 0.34 0.35 0.36 0.36 0.37 0.38 0.39 0.4 0.41 0.42 0.42 0.43 0.44 0.45 0.46 0.47 0.48 0.48 0.49 0.5 0.51 0.52 0.53 0.53 0.54 0.55 0.56 0.57 0.58 0.59 0.59 0.6 0.61 0.62 0.63 0.64 0.65 0.65 0.66 0.67 0.68 0.69 0.7 0.7 0.71 0.72 0.73 0.74 0.75 0.76 0.76 0.77 0.78 0.79 0.8 0.81 0.81 0.82 0.83 0.84 0.85 0.86 0.87 0.87 0.88 0.89 0.9 0.91 0.92 0.93 0.93"/><feFuncG type="table" tableValues="0.08 0.09 0.1 0.11 0.12 0.13 0.14 0.14 0.15 0.16 0.17 0.18 0.19 0.19 0.2 0.21 0.22 0.23 0.24 0.25 0.25 0.26 0.27 0.28 0.29 0.3 0.31 0.31 0.32 0.33 0.34 0.35 0.36 0.36 0.37 0.38 0.39 0.4 0.41 0.42 0.42 0.43 0.44 0.45 0.46 0.47 0.48 0.48 0.49 0.5 0.51 0.52 0.53 0.53 0.54 0.55 0.56 0.57 0.58 0.59 0.59 0.6 0.61 0.62 0.63 0.64 0.65 0.65 0.66 0.67 0.68 0.69 0.7 0.7 0.71 0.72 0.73 0.74 0.75 0.76 0.76 0.77 0.78 0.79 0.8 0.81 0.81 0.82 0.83 0.84 0.85 0.86 0.87 0.87 0.88 0.89 0.9 0.91 0.92 0.93 0.93"/><feFuncB type="table" tableValues="0.08 0.09 0.1 0.11 0.12 0.13 0.14 0.14 0.15 0.16 0.17 0.18 0.19 0.19 0.2 0.21 0.22 0.23 0.24 0.25 0.25 0.26 0.27 0.28 0.29 0.3 0.31 0.31 0.32 0.33 0.34 0.35 0.36 0.36 0.37 0.38 0.39 0.4 0.41 0.42 0.42 0.43 0.44 0.45 0.46 0.47 0.48 0.48 0.49 0.5 0.51 0.52 0.53 0.53 0.54 0.55 0.56 0.57 0.58 0.59 0.59 0.6 0.61 0.62 0.63 0.64 0.65 0.65 0.66 0.67 0.68 0.69 0.7 0.7 0.71 0.72 0.73 0.74 0.75 0.76 0.76 0.77 0.78 0.79 0.8 0.81 0.81 0.82 0.83 0.84 0.85 0.86 0.87 0.87 0.88 0.89 0.9 0.91 0.92 0.93 0.93"/></feComponentTransfer><feConvolveMatrix in="t" order="3" kernelMatrix="0 1 0 1 10 1 0 1 0" edgeMode="duplicate" preserveAlpha="true"/></filter>
<clipPath id="c31"><rect x="85.7" y="238.2" width="58.5" height="73.0"/></clipPath>
<filter id="f31" filterUnits="userSpaceOnUse" x="80.7" y="233.2" width="68.5" height="83.0" color-interpolation-filters="sRGB"><feGaussianBlur in="SourceGraphic" stdDeviation="2" result="d"/><feTurbulence type="fractalNoise" baseFrequency="0.75" numOctaves="2" seed="14" result="n"/><feColorMatrix in="n" type="matrix" values="1 0 0 0 0 1 0 0 0 0 1 0 0 0 0 0 0 0 0 1" result="ng"/><feTurbulence type="fractalNoise" baseFrequency="0.07" numOctaves="3" seed="44" result="m"/><feColorMatrix in="m" type="matrix" values="1 0 0 0 0 1 0 0 0 0 1 0 0 0 0 0 0 0 0 1" result="mg"/><feComposite in="d" in2="mg" operator="arithmetic" k1="0" k2="1" k3="0.07" k4="-0.035" result="d2"/><feComposite in="d2" in2="ng" operator="arithmetic" k1="0" k2="1" k3="1" k4="-0.44" result="s"/><feComponentTransfer in="s" result="t"><feFuncR type="table" tableValues="0.08 0.09 0.1 0.11 0.12 0.13 0.14 0.14 0.15 0.16 0.17 0.18 0.19 0.19 0.2 0.21 0.22 0.23 0.24 0.25 0.25 0.26 0.27 0.28 0.29 0.3 0.31 0.31 0.32 0.33 0.34 0.35 0.36 0.36 0.37 0.38 0.39 0.4 0.41 0.42 0.42 0.43 0.44 0.45 0.46 0.47 0.48 0.48 0.49 0.5 0.51 0.52 0.53 0.53 0.54 0.55 0.56 0.57 0.58 0.59 0.59 0.6 0.61 0.62 0.63 0.64 0.65 0.65 0.66 0.67 0.68 0.69 0.7 0.7 0.71 0.72 0.73 0.74 0.75 0.76 0.76 0.77 0.78 0.79 0.8 0.81 0.81 0.82 0.83 0.84 0.85 0.86 0.87 0.87 0.88 0.89 0.9 0.91 0.92 0.93 0.93"/><feFuncG type="table" tableValues="0.08 0.09 0.1 0.11 0.12 0.13 0.14 0.14 0.15 0.16 0.17 0.18 0.19 0.19 0.2 0.21 0.22 0.23 0.24 0.25 0.25 0.26 0.27 0.28 0.29 0.3 0.31 0.31 0.32 0.33 0.34 0.35 0.36 0.36 0.37 0.38 0.39 0.4 0.41 0.42 0.42 0.43 0.44 0.45 0.46 0.47 0.48 0.48 0.49 0.5 0.51 0.52 0.53 0.53 0.54 0.55 0.56 0.57 0.58 0.59 0.59 0.6 0.61 0.62 0.63 0.64 0.65 0.65 0.66 0.67 0.68 0.69 0.7 0.7 0.71 0.72 0.73 0.74 0.75 0.76 0.76 0.77 0.78 0.79 0.8 0.81 0.81 0.82 0.83 0.84 0.85 0.86 0.87 0.87 0.88 0.89 0.9 0.91 0.92 0.93 0.93"/><feFuncB type="table" tableValues="0.08 0.09 0.1 0.11 0.12 0.13 0.14 0.14 0.15 0.16 0.17 0.18 0.19 0.19 0.2 0.21 0.22 0.23 0.24 0.25 0.25 0.26 0.27 0.28 0.29 0.3 0.31 0.31 0.32 0.33 0.34 0.35 0.36 0.36 0.37 0.38 0.39 0.4 0.41 0.42 0.42 0.43 0.44 0.45 0.46 0.47 0.48 0.48 0.49 0.5 0.51 0.52 0.53 0.53 0.54 0.55 0.56 0.57 0.58 0.59 0.59 0.6 0.61 0.62 0.63 0.64 0.65 0.65 0.66 0.67 0.68 0.69 0.7 0.7 0.71 0.72 0.73 0.74 0.75 0.76 0.76 0.77 0.78 0.79 0.8 0.81 0.81 0.82 0.83 0.84 0.85 0.86 0.87 0.87 0.88 0.89 0.9 0.91 0.92 0.93 0.93"/></feComponentTransfer><feConvolveMatrix in="t" order="3" kernelMatrix="0 1 0 1 10 1 0 1 0" edgeMode="duplicate" preserveAlpha="true"/></filter>
<clipPath id="c32"><rect x="147.0" y="238.2" width="58.4" height="73.0"/></clipPath>
<filter id="f32" filterUnits="userSpaceOnUse" x="142.0" y="233.2" width="68.4" height="83.0" color-interpolation-filters="sRGB"><feGaussianBlur in="SourceGraphic" stdDeviation="2" result="d"/><feTurbulence type="fractalNoise" baseFrequency="0.75" numOctaves="2" seed="15" result="n"/><feColorMatrix in="n" type="matrix" values="1 0 0 0 0 1 0 0 0 0 1 0 0 0 0 0 0 0 0 1" result="ng"/><feTurbulence type="fractalNoise" baseFrequency="0.07" numOctaves="3" seed="45" result="m"/><feColorMatrix in="m" type="matrix" values="1 0 0 0 0 1 0 0 0 0 1 0 0 0 0 0 0 0 0 1" result="mg"/><feComposite in="d" in2="mg" operator="arithmetic" k1="0" k2="1" k3="0.07" k4="-0.035" result="d2"/><feComposite in="d2" in2="ng" operator="arithmetic" k1="0" k2="1" k3="1" k4="-0.44" result="s"/><feComponentTransfer in="s" result="t"><feFuncR type="table" tableValues="0.08 0.09 0.1 0.11 0.12 0.13 0.14 0.14 0.15 0.16 0.17 0.18 0.19 0.19 0.2 0.21 0.22 0.23 0.24 0.25 0.25 0.26 0.27 0.28 0.29 0.3 0.31 0.31 0.32 0.33 0.34 0.35 0.36 0.36 0.37 0.38 0.39 0.4 0.41 0.42 0.42 0.43 0.44 0.45 0.46 0.47 0.48 0.48 0.49 0.5 0.51 0.52 0.53 0.53 0.54 0.55 0.56 0.57 0.58 0.59 0.59 0.6 0.61 0.62 0.63 0.64 0.65 0.65 0.66 0.67 0.68 0.69 0.7 0.7 0.71 0.72 0.73 0.74 0.75 0.76 0.76 0.77 0.78 0.79 0.8 0.81 0.81 0.82 0.83 0.84 0.85 0.86 0.87 0.87 0.88 0.89 0.9 0.91 0.92 0.93 0.93"/><feFuncG type="table" tableValues="0.08 0.09 0.1 0.11 0.12 0.13 0.14 0.14 0.15 0.16 0.17 0.18 0.19 0.19 0.2 0.21 0.22 0.23 0.24 0.25 0.25 0.26 0.27 0.28 0.29 0.3 0.31 0.31 0.32 0.33 0.34 0.35 0.36 0.36 0.37 0.38 0.39 0.4 0.41 0.42 0.42 0.43 0.44 0.45 0.46 0.47 0.48 0.48 0.49 0.5 0.51 0.52 0.53 0.53 0.54 0.55 0.56 0.57 0.58 0.59 0.59 0.6 0.61 0.62 0.63 0.64 0.65 0.65 0.66 0.67 0.68 0.69 0.7 0.7 0.71 0.72 0.73 0.74 0.75 0.76 0.76 0.77 0.78 0.79 0.8 0.81 0.81 0.82 0.83 0.84 0.85 0.86 0.87 0.87 0.88 0.89 0.9 0.91 0.92 0.93 0.93"/><feFuncB type="table" tableValues="0.08 0.09 0.1 0.11 0.12 0.13 0.14 0.14 0.15 0.16 0.17 0.18 0.19 0.19 0.2 0.21 0.22 0.23 0.24 0.25 0.25 0.26 0.27 0.28 0.29 0.3 0.31 0.31 0.32 0.33 0.34 0.35 0.36 0.36 0.37 0.38 0.39 0.4 0.41 0.42 0.42 0.43 0.44 0.45 0.46 0.47 0.48 0.48 0.49 0.5 0.51 0.52 0.53 0.53 0.54 0.55 0.56 0.57 0.58 0.59 0.59 0.6 0.61 0.62 0.63 0.64 0.65 0.65 0.66 0.67 0.68 0.69 0.7 0.7 0.71 0.72 0.73 0.74 0.75 0.76 0.76 0.77 0.78 0.79 0.8 0.81 0.81 0.82 0.83 0.84 0.85 0.86 0.87 0.87 0.88 0.89 0.9 0.91 0.92 0.93 0.93"/></feComponentTransfer><feConvolveMatrix in="t" order="3" kernelMatrix="0 1 0 1 10 1 0 1 0" edgeMode="duplicate" preserveAlpha="true"/></filter>
<clipPath id="c33"><rect x="207.6" y="238.2" width="58.1" height="73.0"/></clipPath>
<filter id="f33" filterUnits="userSpaceOnUse" x="202.6" y="233.2" width="68.1" height="83.0" color-interpolation-filters="sRGB"><feGaussianBlur in="SourceGraphic" stdDeviation="2" result="d"/><feTurbulence type="fractalNoise" baseFrequency="0.75" numOctaves="2" seed="16" result="n"/><feColorMatrix in="n" type="matrix" values="1 0 0 0 0 1 0 0 0 0 1 0 0 0 0 0 0 0 0 1" result="ng"/><feTurbulence type="fractalNoise" baseFrequency="0.07" numOctaves="3" seed="46" result="m"/><feColorMatrix in="m" type="matrix" values="1 0 0 0 0 1 0 0 0 0 1 0 0 0 0 0 0 0 0 1" result="mg"/><feComposite in="d" in2="mg" operator="arithmetic" k1="0" k2="1" k3="0.07" k4="-0.035" result="d2"/><feComposite in="d2" in2="ng" operator="arithmetic" k1="0" k2="1" k3="1" k4="-0.44" result="s"/><feComponentTransfer in="s" result="t"><feFuncR type="table" tableValues="0.08 0.09 0.1 0.11 0.12 0.13 0.14 0.14 0.15 0.16 0.17 0.18 0.19 0.19 0.2 0.21 0.22 0.23 0.24 0.25 0.25 0.26 0.27 0.28 0.29 0.3 0.31 0.31 0.32 0.33 0.34 0.35 0.36 0.36 0.37 0.38 0.39 0.4 0.41 0.42 0.42 0.43 0.44 0.45 0.46 0.47 0.48 0.48 0.49 0.5 0.51 0.52 0.53 0.53 0.54 0.55 0.56 0.57 0.58 0.59 0.59 0.6 0.61 0.62 0.63 0.64 0.65 0.65 0.66 0.67 0.68 0.69 0.7 0.7 0.71 0.72 0.73 0.74 0.75 0.76 0.76 0.77 0.78 0.79 0.8 0.81 0.81 0.82 0.83 0.84 0.85 0.86 0.87 0.87 0.88 0.89 0.9 0.91 0.92 0.93 0.93"/><feFuncG type="table" tableValues="0.08 0.09 0.1 0.11 0.12 0.13 0.14 0.14 0.15 0.16 0.17 0.18 0.19 0.19 0.2 0.21 0.22 0.23 0.24 0.25 0.25 0.26 0.27 0.28 0.29 0.3 0.31 0.31 0.32 0.33 0.34 0.35 0.36 0.36 0.37 0.38 0.39 0.4 0.41 0.42 0.42 0.43 0.44 0.45 0.46 0.47 0.48 0.48 0.49 0.5 0.51 0.52 0.53 0.53 0.54 0.55 0.56 0.57 0.58 0.59 0.59 0.6 0.61 0.62 0.63 0.64 0.65 0.65 0.66 0.67 0.68 0.69 0.7 0.7 0.71 0.72 0.73 0.74 0.75 0.76 0.76 0.77 0.78 0.79 0.8 0.81 0.81 0.82 0.83 0.84 0.85 0.86 0.87 0.87 0.88 0.89 0.9 0.91 0.92 0.93 0.93"/><feFuncB type="table" tableValues="0.08 0.09 0.1 0.11 0.12 0.13 0.14 0.14 0.15 0.16 0.17 0.18 0.19 0.19 0.2 0.21 0.22 0.23 0.24 0.25 0.25 0.26 0.27 0.28 0.29 0.3 0.31 0.31 0.32 0.33 0.34 0.35 0.36 0.36 0.37 0.38 0.39 0.4 0.41 0.42 0.42 0.43 0.44 0.45 0.46 0.47 0.48 0.48 0.49 0.5 0.51 0.52 0.53 0.53 0.54 0.55 0.56 0.57 0.58 0.59 0.59 0.6 0.61 0.62 0.63 0.64 0.65 0.65 0.66 0.67 0.68 0.69 0.7 0.7 0.71 0.72 0.73 0.74 0.75 0.76 0.76 0.77 0.78 0.79 0.8 0.81 0.81 0.82 0.83 0.84 0.85 0.86 0.87 0.87 0.88 0.89 0.9 0.91 0.92 0.93 0.93"/></feComponentTransfer><feConvolveMatrix in="t" order="3" kernelMatrix="0 1 0 1 10 1 0 1 0" edgeMode="duplicate" preserveAlpha="true"/></filter>
<clipPath id="c40"><rect x="24.7" y="315.3" width="58.1" height="72.0"/></clipPath>
<filter id="f40" filterUnits="userSpaceOnUse" x="19.7" y="310.3" width="68.1" height="82.0" color-interpolation-filters="sRGB"><feGaussianBlur in="SourceGraphic" stdDeviation="2" result="d"/><feTurbulence type="fractalNoise" baseFrequency="0.75" numOctaves="2" seed="17" result="n"/><feColorMatrix in="n" type="matrix" values="1 0 0 0 0 1 0 0 0 0 1 0 0 0 0 0 0 0 0 1" result="ng"/><feTurbulence type="fractalNoise" baseFrequency="0.07" numOctaves="3" seed="47" result="m"/><feColorMatrix in="m" type="matrix" values="1 0 0 0 0 1 0 0 0 0 1 0 0 0 0 0 0 0 0 1" result="mg"/><feComposite in="d" in2="mg" operator="arithmetic" k1="0" k2="1" k3="0.03" k4="-0.015" result="d2"/><feComposite in="d2" in2="ng" operator="arithmetic" k1="0" k2="1" k3="1" k4="-0.44" result="s"/><feComponentTransfer in="s" result="t"><feFuncR type="table" tableValues="0.11 0.12 0.12 0.13 0.14 0.15 0.16 0.16 0.17 0.18 0.19 0.2 0.2 0.21 0.22 0.23 0.24 0.24 0.25 0.26 0.27 0.28 0.28 0.29 0.3 0.31 0.32 0.33 0.33 0.34 0.35 0.36 0.36 0.37 0.38 0.39 0.4 0.41 0.41 0.42 0.43 0.44 0.45 0.45 0.46 0.47 0.48 0.48 0.49 0.5 0.51 0.52 0.53 0.53 0.54 0.55 0.56 0.56 0.57 0.58 0.59 0.6 0.6 0.61 0.62 0.63 0.64 0.65 0.65 0.66 0.67 0.68 0.69 0.69 0.7 0.71 0.72 0.73 0.73 0.74 0.75 0.76 0.77 0.77 0.78 0.79 0.8 0.81 0.81 0.82 0.83 0.84 0.84 0.85 0.86 0.87 0.88 0.89 0.89 0.9 0.91"/><feFuncG type="table" tableValues="0.11 0.12 0.12 0.13 0.14 0.15 0.16 0.16 0.17 0.18 0.19 0.2 0.2 0.21 0.22 0.23 0.24 0.24 0.25 0.26 0.27 0.28 0.28 0.29 0.3 0.31 0.32 0.33 0.33 0.34 0.35 0.36 0.36 0.37 0.38 0.39 0.4 0.41 0.41 0.42 0.43 0.44 0.45 0.45 0.46 0.47 0.48 0.48 0.49 0.5 0.51 0.52 0.53 0.53 0.54 0.55 0.56 0.56 0.57 0.58 0.59 0.6 0.6 0.61 0.62 0.63 0.64 0.65 0.65 0.66 0.67 0.68 0.69 0.69 0.7 0.71 0.72 0.73 0.73 0.74 0.75 0.76 0.77 0.77 0.78 0.79 0.8 0.81 0.81 0.82 0.83 0.84 0.84 0.85 0.86 0.87 0.88 0.89 0.89 0.9 0.91"/><feFuncB type="table" tableValues="0.11 0.12 0.12 0.13 0.14 0.15 0.16 0.16 0.17 0.18 0.19 0.2 0.2 0.21 0.22 0.23 0.24 0.24 0.25 0.26 0.27 0.28 0.28 0.29 0.3 0.31 0.32 0.33 0.33 0.34 0.35 0.36 0.36 0.37 0.38 0.39 0.4 0.41 0.41 0.42 0.43 0.44 0.45 0.45 0.46 0.47 0.48 0.48 0.49 0.5 0.51 0.52 0.53 0.53 0.54 0.55 0.56 0.56 0.57 0.58 0.59 0.6 0.6 0.61 0.62 0.63 0.64 0.65 0.65 0.66 0.67 0.68 0.69 0.69 0.7 0.71 0.72 0.73 0.73 0.74 0.75 0.76 0.77 0.77 0.78 0.79 0.8 0.81 0.81 0.82 0.83 0.84 0.84 0.85 0.86 0.87 0.88 0.89 0.89 0.9 0.91"/></feComponentTransfer><feConvolveMatrix in="t" order="3" kernelMatrix="0 1 0 1 10 1 0 1 0" edgeMode="duplicate" preserveAlpha="true"/></filter>
<clipPath id="c41"><rect x="85.7" y="315.3" width="58.5" height="72.0"/></clipPath>
<filter id="f41" filterUnits="userSpaceOnUse" x="80.7" y="310.3" width="68.5" height="82.0" color-interpolation-filters="sRGB"><feGaussianBlur in="SourceGraphic" stdDeviation="2" result="d"/><feTurbulence type="fractalNoise" baseFrequency="0.75" numOctaves="2" seed="18" result="n"/><feColorMatrix in="n" type="matrix" values="1 0 0 0 0 1 0 0 0 0 1 0 0 0 0 0 0 0 0 1" result="ng"/><feTurbulence type="fractalNoise" baseFrequency="0.07" numOctaves="3" seed="48" result="m"/><feColorMatrix in="m" type="matrix" values="1 0 0 0 0 1 0 0 0 0 1 0 0 0 0 0 0 0 0 1" result="mg"/><feComposite in="d" in2="mg" operator="arithmetic" k1="0" k2="1" k3="0.03" k4="-0.015" result="d2"/><feComposite in="d2" in2="ng" operator="arithmetic" k1="0" k2="1" k3="1" k4="-0.44" result="s"/><feComponentTransfer in="s" result="t"><feFuncR type="table" tableValues="0.11 0.12 0.12 0.13 0.14 0.15 0.16 0.16 0.17 0.18 0.19 0.2 0.2 0.21 0.22 0.23 0.24 0.24 0.25 0.26 0.27 0.28 0.28 0.29 0.3 0.31 0.32 0.33 0.33 0.34 0.35 0.36 0.36 0.37 0.38 0.39 0.4 0.41 0.41 0.42 0.43 0.44 0.45 0.45 0.46 0.47 0.48 0.48 0.49 0.5 0.51 0.52 0.53 0.53 0.54 0.55 0.56 0.56 0.57 0.58 0.59 0.6 0.6 0.61 0.62 0.63 0.64 0.65 0.65 0.66 0.67 0.68 0.69 0.69 0.7 0.71 0.72 0.73 0.73 0.74 0.75 0.76 0.77 0.77 0.78 0.79 0.8 0.81 0.81 0.82 0.83 0.84 0.84 0.85 0.86 0.87 0.88 0.89 0.89 0.9 0.91"/><feFuncG type="table" tableValues="0.11 0.12 0.12 0.13 0.14 0.15 0.16 0.16 0.17 0.18 0.19 0.2 0.2 0.21 0.22 0.23 0.24 0.24 0.25 0.26 0.27 0.28 0.28 0.29 0.3 0.31 0.32 0.33 0.33 0.34 0.35 0.36 0.36 0.37 0.38 0.39 0.4 0.41 0.41 0.42 0.43 0.44 0.45 0.45 0.46 0.47 0.48 0.48 0.49 0.5 0.51 0.52 0.53 0.53 0.54 0.55 0.56 0.56 0.57 0.58 0.59 0.6 0.6 0.61 0.62 0.63 0.64 0.65 0.65 0.66 0.67 0.68 0.69 0.69 0.7 0.71 0.72 0.73 0.73 0.74 0.75 0.76 0.77 0.77 0.78 0.79 0.8 0.81 0.81 0.82 0.83 0.84 0.84 0.85 0.86 0.87 0.88 0.89 0.89 0.9 0.91"/><feFuncB type="table" tableValues="0.11 0.12 0.12 0.13 0.14 0.15 0.16 0.16 0.17 0.18 0.19 0.2 0.2 0.21 0.22 0.23 0.24 0.24 0.25 0.26 0.27 0.28 0.28 0.29 0.3 0.31 0.32 0.33 0.33 0.34 0.35 0.36 0.36 0.37 0.38 0.39 0.4 0.41 0.41 0.42 0.43 0.44 0.45 0.45 0.46 0.47 0.48 0.48 0.49 0.5 0.51 0.52 0.53 0.53 0.54 0.55 0.56 0.56 0.57 0.58 0.59 0.6 0.6 0.61 0.62 0.63 0.64 0.65 0.65 0.66 0.67 0.68 0.69 0.69 0.7 0.71 0.72 0.73 0.73 0.74 0.75 0.76 0.77 0.77 0.78 0.79 0.8 0.81 0.81 0.82 0.83 0.84 0.84 0.85 0.86 0.87 0.88 0.89 0.89 0.9 0.91"/></feComponentTransfer><feConvolveMatrix in="t" order="3" kernelMatrix="0 1 0 1 10 1 0 1 0" edgeMode="duplicate" preserveAlpha="true"/></filter>
<clipPath id="c42"><rect x="147.0" y="315.3" width="58.4" height="72.0"/></clipPath>
<filter id="f42" filterUnits="userSpaceOnUse" x="142.0" y="310.3" width="68.4" height="82.0" color-interpolation-filters="sRGB"><feGaussianBlur in="SourceGraphic" stdDeviation="2" result="d"/><feTurbulence type="fractalNoise" baseFrequency="0.75" numOctaves="2" seed="19" result="n"/><feColorMatrix in="n" type="matrix" values="1 0 0 0 0 1 0 0 0 0 1 0 0 0 0 0 0 0 0 1" result="ng"/><feTurbulence type="fractalNoise" baseFrequency="0.07" numOctaves="3" seed="49" result="m"/><feColorMatrix in="m" type="matrix" values="1 0 0 0 0 1 0 0 0 0 1 0 0 0 0 0 0 0 0 1" result="mg"/><feComposite in="d" in2="mg" operator="arithmetic" k1="0" k2="1" k3="0.03" k4="-0.015" result="d2"/><feComposite in="d2" in2="ng" operator="arithmetic" k1="0" k2="1" k3="1" k4="-0.44" result="s"/><feComponentTransfer in="s" result="t"><feFuncR type="table" tableValues="0.11 0.12 0.12 0.13 0.14 0.15 0.16 0.16 0.17 0.18 0.19 0.2 0.2 0.21 0.22 0.23 0.24 0.24 0.25 0.26 0.27 0.28 0.28 0.29 0.3 0.31 0.32 0.33 0.33 0.34 0.35 0.36 0.36 0.37 0.38 0.39 0.4 0.41 0.41 0.42 0.43 0.44 0.45 0.45 0.46 0.47 0.48 0.48 0.49 0.5 0.51 0.52 0.53 0.53 0.54 0.55 0.56 0.56 0.57 0.58 0.59 0.6 0.6 0.61 0.62 0.63 0.64 0.65 0.65 0.66 0.67 0.68 0.69 0.69 0.7 0.71 0.72 0.73 0.73 0.74 0.75 0.76 0.77 0.77 0.78 0.79 0.8 0.81 0.81 0.82 0.83 0.84 0.84 0.85 0.86 0.87 0.88 0.89 0.89 0.9 0.91"/><feFuncG type="table" tableValues="0.11 0.12 0.12 0.13 0.14 0.15 0.16 0.16 0.17 0.18 0.19 0.2 0.2 0.21 0.22 0.23 0.24 0.24 0.25 0.26 0.27 0.28 0.28 0.29 0.3 0.31 0.32 0.33 0.33 0.34 0.35 0.36 0.36 0.37 0.38 0.39 0.4 0.41 0.41 0.42 0.43 0.44 0.45 0.45 0.46 0.47 0.48 0.48 0.49 0.5 0.51 0.52 0.53 0.53 0.54 0.55 0.56 0.56 0.57 0.58 0.59 0.6 0.6 0.61 0.62 0.63 0.64 0.65 0.65 0.66 0.67 0.68 0.69 0.69 0.7 0.71 0.72 0.73 0.73 0.74 0.75 0.76 0.77 0.77 0.78 0.79 0.8 0.81 0.81 0.82 0.83 0.84 0.84 0.85 0.86 0.87 0.88 0.89 0.89 0.9 0.91"/><feFuncB type="table" tableValues="0.11 0.12 0.12 0.13 0.14 0.15 0.16 0.16 0.17 0.18 0.19 0.2 0.2 0.21 0.22 0.23 0.24 0.24 0.25 0.26 0.27 0.28 0.28 0.29 0.3 0.31 0.32 0.33 0.33 0.34 0.35 0.36 0.36 0.37 0.38 0.39 0.4 0.41 0.41 0.42 0.43 0.44 0.45 0.45 0.46 0.47 0.48 0.48 0.49 0.5 0.51 0.52 0.53 0.53 0.54 0.55 0.56 0.56 0.57 0.58 0.59 0.6 0.6 0.61 0.62 0.63 0.64 0.65 0.65 0.66 0.67 0.68 0.69 0.69 0.7 0.71 0.72 0.73 0.73 0.74 0.75 0.76 0.77 0.77 0.78 0.79 0.8 0.81 0.81 0.82 0.83 0.84 0.84 0.85 0.86 0.87 0.88 0.89 0.89 0.9 0.91"/></feComponentTransfer><feConvolveMatrix in="t" order="3" kernelMatrix="0 1 0 1 10 1 0 1 0" edgeMode="duplicate" preserveAlpha="true"/></filter>
<clipPath id="c43"><rect x="207.6" y="315.3" width="58.1" height="72.0"/></clipPath>
<filter id="f43" filterUnits="userSpaceOnUse" x="202.6" y="310.3" width="68.1" height="82.0" color-interpolation-filters="sRGB"><feGaussianBlur in="SourceGraphic" stdDeviation="2" result="d"/><feTurbulence type="fractalNoise" baseFrequency="0.75" numOctaves="2" seed="20" result="n"/><feColorMatrix in="n" type="matrix" values="1 0 0 0 0 1 0 0 0 0 1 0 0 0 0 0 0 0 0 1" result="ng"/><feTurbulence type="fractalNoise" baseFrequency="0.07" numOctaves="3" seed="50" result="m"/><feColorMatrix in="m" type="matrix" values="1 0 0 0 0 1 0 0 0 0 1 0 0 0 0 0 0 0 0 1" result="mg"/><feComposite in="d" in2="mg" operator="arithmetic" k1="0" k2="1" k3="0.03" k4="-0.015" result="d2"/><feComposite in="d2" in2="ng" operator="arithmetic" k1="0" k2="1" k3="1" k4="-0.44" result="s"/><feComponentTransfer in="s" result="t"><feFuncR type="table" tableValues="0.11 0.12 0.12 0.13 0.14 0.15 0.16 0.16 0.17 0.18 0.19 0.2 0.2 0.21 0.22 0.23 0.24 0.24 0.25 0.26 0.27 0.28 0.28 0.29 0.3 0.31 0.32 0.33 0.33 0.34 0.35 0.36 0.36 0.37 0.38 0.39 0.4 0.41 0.41 0.42 0.43 0.44 0.45 0.45 0.46 0.47 0.48 0.48 0.49 0.5 0.51 0.52 0.53 0.53 0.54 0.55 0.56 0.56 0.57 0.58 0.59 0.6 0.6 0.61 0.62 0.63 0.64 0.65 0.65 0.66 0.67 0.68 0.69 0.69 0.7 0.71 0.72 0.73 0.73 0.74 0.75 0.76 0.77 0.77 0.78 0.79 0.8 0.81 0.81 0.82 0.83 0.84 0.84 0.85 0.86 0.87 0.88 0.89 0.89 0.9 0.91"/><feFuncG type="table" tableValues="0.11 0.12 0.12 0.13 0.14 0.15 0.16 0.16 0.17 0.18 0.19 0.2 0.2 0.21 0.22 0.23 0.24 0.24 0.25 0.26 0.27 0.28 0.28 0.29 0.3 0.31 0.32 0.33 0.33 0.34 0.35 0.36 0.36 0.37 0.38 0.39 0.4 0.41 0.41 0.42 0.43 0.44 0.45 0.45 0.46 0.47 0.48 0.48 0.49 0.5 0.51 0.52 0.53 0.53 0.54 0.55 0.56 0.56 0.57 0.58 0.59 0.6 0.6 0.61 0.62 0.63 0.64 0.65 0.65 0.66 0.67 0.68 0.69 0.69 0.7 0.71 0.72 0.73 0.73 0.74 0.75 0.76 0.77 0.77 0.78 0.79 0.8 0.81 0.81 0.82 0.83 0.84 0.84 0.85 0.86 0.87 0.88 0.89 0.89 0.9 0.91"/><feFuncB type="table" tableValues="0.11 0.12 0.12 0.13 0.14 0.15 0.16 0.16 0.17 0.18 0.19 0.2 0.2 0.21 0.22 0.23 0.24 0.24 0.25 0.26 0.27 0.28 0.28 0.29 0.3 0.31 0.32 0.33 0.33 0.34 0.35 0.36 0.36 0.37 0.38 0.39 0.4 0.41 0.41 0.42 0.43 0.44 0.45 0.45 0.46 0.47 0.48 0.48 0.49 0.5 0.51 0.52 0.53 0.53 0.54 0.55 0.56 0.56 0.57 0.58 0.59 0.6 0.6 0.61 0.62 0.63 0.64 0.65 0.65 0.66 0.67 0.68 0.69 0.69 0.7 0.71 0.72 0.73 0.73 0.74 0.75 0.76 0.77 0.77 0.78 0.79 0.8 0.81 0.81 0.82 0.83 0.84 0.84 0.85 0.86 0.87 0.88 0.89 0.89 0.9 0.91"/></feComponentTransfer><feConvolveMatrix in="t" order="3" kernelMatrix="0 1 0 1 10 1 0 1 0" edgeMode="duplicate" preserveAlpha="true"/></filter>
</defs>
<rect width="567" height="389" fill="#fff"/>
<g clip-path="url(#c00)"><g filter="url(#f00)">
<rect x="12.7" y="1.3000000000000007" width="82.1" height="96.7" fill="#808080"/>
<polygon points="41.3,2.4 40.4,13.3 37.5,49.7 33.4,86.0 32.2,96.9 57.3,96.9 57.8,86.0 59.6,49.7 62.5,13.3 63.3,2.4" fill="#e6e6e6"/>
</g></g>
<rect x="24.7" y="13.3" width="58.1" height="72.7" fill="none" stroke="#383838" stroke-width="0.95"/>
<g clip-path="url(#c01)"><g filter="url(#f01)">
<rect x="73.7" y="1.3000000000000007" width="82.5" height="96.7" fill="#808080"/>
<rect x="117.9" y="49.7" width="38.0" height="50.9" fill="#8f8f8f"/>
<polygon points="105.7,7.8 105.0,13.3 102.7,31.5 102.1,49.7 98.0,67.8 93.9,86.0 92.7,91.5 114.8,91.5 115.5,86.0 117.9,67.8 119.6,49.7 121.4,31.5 121.4,13.3 121.4,7.8" fill="#e6e6e6"/>
</g></g>
<rect x="85.7" y="13.3" width="58.5" height="72.7" fill="none" stroke="#383838" stroke-width="0.95"/>
<g clip-path="url(#c02)"><g filter="url(#f02)">
<rect x="135.0" y="1.3000000000000007" width="82.4" height="96.7" fill="#808080"/>
<polygon points="171.2,2.4 169.8,13.3 165.1,49.7 158.1,86.0 156.0,96.9 174.9,96.9 176.8,86.0 183.2,49.7 187.3,13.3 188.5,2.4" fill="#e6e6e6"/>
</g></g>
<rect x="147.0" y="13.3" width="58.4" height="72.7" fill="none" stroke="#383838" stroke-width="0.95"/>
<g clip-path="url(#c03)"><g filter="url(#f03)">
<rect x="195.6" y="1.3000000000000007" width="82.1" height="96.7" fill="#808080"/>
<rect x="245.9" y="-1.2" width="31.4" height="101.8" fill="#919191"/>
<rect x="196.0" y="-1.2" width="30.8" height="101.8" fill="#8a8a8a"/>
<polygon points="226.3,2.4 226.8,13.3 228.5,49.7 226.2,86.0 225.5,96.9 248.2,96.9 247.7,86.0 245.9,49.7 247.7,13.3 248.2,2.4" fill="#e6e6e6"/>
</g></g>
<rect x="207.6" y="13.3" width="58.1" height="72.7" fill="none" stroke="#383838" stroke-width="0.95"/>
<g clip-path="url(#c10)"><g filter="url(#f10)">
<rect x="12.7" y="76.2" width="82.1" height="96.4" fill="#808080"/>
<polygon points="43.2,83.9 43.9,88.2 46.2,102.7 42.1,117.2 40.4,128.0 43.9,138.9 43.3,149.7 42.1,160.6 41.8,163.9 56.1,163.9 56.1,160.6 56.1,149.7 52.0,138.9 56.1,128.0 57.2,117.2 57.8,102.7 60.1,88.2 60.8,83.9" fill="#d9d9d9"/>
</g></g>
<rect x="24.7" y="88.2" width="58.1" height="72.4" fill="none" stroke="#383838" stroke-width="0.95"/>
<g clip-path="url(#c11)"><g filter="url(#f11)">
<rect x="73.7" y="76.2" width="82.5" height="96.4" fill="#808080"/>
<ellipse cx="91.5" cy="120.8" rx="4.7" ry="7.2" fill="#9e9e9e"/>
<ellipse cx="137.2" cy="131.6" rx="4.7" ry="4.3" fill="#a8a8a8"/>
<polygon points="111.2,83.9 110.9,88.2 109.7,102.7 106.8,117.2 103.8,128.0 107.9,137.4 102.7,146.1 100.9,160.6 100.4,164.9 113.8,164.9 113.8,160.6 113.8,146.1 113.8,137.4 116.7,128.0 118.5,117.2 120.8,102.7 122.6,88.2 123.1,83.9" fill="#d9d9d9"/>
</g></g>
<rect x="85.7" y="88.2" width="58.5" height="72.4" fill="none" stroke="#383838" stroke-width="0.95"/>
<g clip-path="url(#c12)"><g filter="url(#f12)">
<rect x="135.0" y="76.2" width="82.4" height="96.4" fill="#808080"/>
<polygon points="178.2,83.9 176.8,88.2 172.1,102.7 172.7,117.2 170.4,128.0 173.9,136.0 170.9,146.1 171.5,160.6 171.7,164.9 180.7,164.9 180.9,160.6 181.5,146.1 179.7,136.0 183.8,128.0 184.4,117.2 185.5,102.7 186.7,88.2 187.1,83.9" fill="#d6d6d6"/>
</g></g>
<rect x="147.0" y="88.2" width="58.4" height="72.4" fill="none" stroke="#383838" stroke-width="0.95"/>
<g clip-path="url(#c13)"><g filter="url(#f13)">
<rect x="195.6" y="76.2" width="82.1" height="96.4" fill="#808080"/>
<rect x="247.1" y="73.7" width="30.2" height="101.4" fill="#919191"/>
<ellipse cx="219.2" cy="142.5" rx="8.7" ry="10.9" fill="#999999"/>
<polygon points="234.0,83.9 234.3,88.2 235.5,102.7 237.2,117.2 240.1,128.0 241.9,138.9 244.2,149.7 245.4,160.6 245.7,163.9 258.7,163.9 258.1,160.6 256.4,149.7 253.5,138.9 252.3,128.0 247.1,117.2 247.1,102.7 247.1,88.2 247.1,83.9" fill="#d6d6d6"/>
</g></g>
<rect x="207.6" y="88.2" width="58.1" height="72.4" fill="none" stroke="#383838" stroke-width="0.95"/>
<g clip-path="url(#c20)"><g filter="url(#f20)">
<rect x="12.7" y="151.2" width="82.1" height="96.4" fill="#808080"/>
<ellipse cx="30.5" cy="195.8" rx="5.8" ry="21.7" fill="#8f8f8f"/>
<polygon points="41.3,158.9 42.1,163.2 45.0,177.7 43.9,192.2 41.0,203.0 39.2,213.9 38.1,224.7 37.5,235.6 37.3,238.9 47.2,238.9 47.9,235.6 50.3,224.7 52.0,213.9 53.8,203.0 54.9,192.2 54.9,177.7 57.2,163.2 57.9,158.9" fill="#ababab"/>
</g></g>
<rect x="24.7" y="163.2" width="58.1" height="72.4" fill="none" stroke="#383838" stroke-width="0.95"/>
<g clip-path="url(#c21)"><g filter="url(#f21)">
<rect x="73.7" y="151.2" width="82.5" height="96.4" fill="#808080"/>
<ellipse cx="112.0" cy="195.8" rx="12.9" ry="23.2" fill="#919191"/>
<polygon points="107.9,171.9 105.0,192.2 105.0,210.3 99.7,219.7 98.6,235.6 98.2,240.4 111.8,240.4 112.0,235.6 112.6,219.7 116.1,210.3 119.6,192.2 117.9,171.9" fill="#9d9d9d"/>
<ellipse cx="105.0" cy="228.4" rx="4.7" ry="5.8" fill="#bfbfbf"/>
</g></g>
<rect x="85.7" y="163.2" width="58.5" height="72.4" fill="none" stroke="#383838" stroke-width="0.95"/>
<g clip-path="url(#c22)"><g filter="url(#f22)">
<rect x="135.0" y="151.2" width="82.4" height="96.4" fill="#808080"/>
<ellipse cx="158.7" cy="215.3" rx="5.8" ry="5.8" fill="#999999"/>
<polygon points="171.2,156.7 171.5,163.2 172.7,184.9 170.4,206.6 169.2,235.6 168.8,244.3 176.7,244.3 177.4,235.6 179.7,206.6 180.9,184.9 182.0,163.2 182.4,156.7" fill="#999999"/>
<ellipse cx="175.6" cy="197.2" rx="4.7" ry="5.8" fill="#cccccc"/>
</g></g>
<rect x="147.0" y="163.2" width="58.4" height="72.4" fill="none" stroke="#383838" stroke-width="0.95"/>
<g clip-path="url(#c23)"><g filter="url(#f23)">
<rect x="195.6" y="151.2" width="82.1" height="96.4" fill="#808080"/>
<rect x="244.8" y="148.7" width="32.5" height="101.4" fill="#939393"/>
<rect x="219.2" y="148.7" width="58.1" height="34.8" fill="#969696"/>
<polygon points="228.7,156.7 230.8,163.2 237.8,184.9 235.5,195.8 236.6,213.9 237.8,235.6 238.2,242.1 248.3,242.1 248.3,235.6 248.3,213.9 247.1,195.8 243.6,184.9 244.8,163.2 245.1,156.7" fill="#a1a1a1"/>
<ellipse cx="241.3" cy="204.5" rx="4.1" ry="7.2" fill="#cccccc"/>
</g></g>
<rect x="207.6" y="163.2" width="58.1" height="72.4" fill="none" stroke="#383838" stroke-width="0.95"/>
<g clip-path="url(#c30)"><g filter="url(#f30)">
<rect x="12.7" y="226.2" width="82.1" height="97.0" fill="#808080"/>
</g></g>
<rect x="24.7" y="238.2" width="58.1" height="73.0" fill="none" stroke="#383838" stroke-width="0.95"/>
<g clip-path="url(#c31)"><g filter="url(#f31)">
<rect x="73.7" y="226.2" width="82.5" height="97.0" fill="#808080"/>
<polygon points="109.1,260.1 106.2,282.0 104.4,311.2 103.9,320.0 115.6,320.0 116.1,311.2 117.9,282.0 114.9,260.1" fill="#969696"/>
</g></g>
<rect x="85.7" y="238.2" width="58.5" height="73.0" fill="none" stroke="#383838" stroke-width="0.95"/>
<g clip-path="url(#c32)"><g filter="url(#f32)">
<rect x="135.0" y="226.2" width="82.4" height="97.0" fill="#808080"/>
</g></g>
<rect x="147.0" y="238.2" width="58.4" height="73.0" fill="none" stroke="#383838" stroke-width="0.95"/>
<g clip-path="url(#c33)"><g filter="url(#f33)">
<rect x="195.6" y="226.2" width="82.1" height="97.0" fill="#808080"/>
<polygon points="239.6,260.1 236.6,282.0 233.7,311.2 232.9,320.0 254.1,320.0 254.1,311.2 254.1,282.0 251.2,260.1" fill="#949494"/>
</g></g>
<rect x="207.6" y="238.2" width="58.1" height="73.0" fill="none" stroke="#383838" stroke-width="0.95"/>
<g clip-path="url(#c40)"><g filter="url(#f40)">
<rect x="12.7" y="303.3" width="82.1" height="96.0" fill="#808080"/>
</g></g>
<rect x="24.7" y="315.3" width="58.1" height="72.0" fill="none" stroke="#383838" stroke-width="0.95"/>
<g clip-path="url(#c41)"><g filter="url(#f41)">
<rect x="73.7" y="303.3" width="82.5" height="96.0" fill="#808080"/>
</g></g>
<rect x="85.7" y="315.3" width="58.5" height="72.0" fill="none" stroke="#383838" stroke-width="0.95"/>
<g clip-path="url(#c42)"><g filter="url(#f42)">
<rect x="135.0" y="303.3" width="82.4" height="96.0" fill="#808080"/>
</g></g>
<rect x="147.0" y="315.3" width="58.4" height="72.0" fill="none" stroke="#383838" stroke-width="0.95"/>
<g clip-path="url(#c43)"><g filter="url(#f43)">
<rect x="195.6" y="303.3" width="82.1" height="96.0" fill="#808080"/>
</g></g>
<rect x="207.6" y="315.3" width="58.1" height="72.0" fill="none" stroke="#383838" stroke-width="0.95"/>
<text x="53.5" y="9.5" font-size="9.7" text-anchor="middle">Control</text>
<text x="116.8" y="9.5" font-size="9.7" text-anchor="middle">20 µg/ cm²</text>
<text x="175.7" y="9.5" font-size="9.7" text-anchor="middle">40 µg/ cm²</text>
<text x="236.4" y="9.5" font-size="9.7" text-anchor="middle">80 µg/ cm²</text>
<text x="10.5" y="53.9" font-size="9.6" text-anchor="middle">0 h</text>
<text x="10.6" y="128.3" font-size="9.6" text-anchor="middle">12 h</text>
<text x="10.6" y="203.9" font-size="9.6" text-anchor="middle">24 h</text>
<text x="12.6" y="279" font-size="10" text-anchor="middle">36 h</text>
<text x="12.6" y="356.3" font-size="10" text-anchor="middle">48 h</text>
<g stroke="#8c8c8c" stroke-width="0.9" fill="none">
<path d="M319.6 33.2V204.2H565.0"/>
<path d="M316.20000000000005 204.2H319.6M316.20000000000005 175.8H319.6M316.20000000000005 147.2H319.6M316.20000000000005 118.8H319.6M316.20000000000005 90.2H319.6M316.20000000000005 61.8H319.6M316.20000000000005 33.2H319.6M319.6 204.2V207.0M329.4 204.2V207.0M339.2 204.2V207.0M349.0 204.2V207.0M358.9 204.2V207.0M368.7 204.2V207.0M378.5 204.2V207.0M388.3 204.2V207.0M398.1 204.2V207.0M407.9 204.2V207.0M417.8 204.2V207.0M427.6 204.2V207.0M437.4 204.2V207.0M447.2 204.2V207.0M457.0 204.2V207.0M466.8 204.2V207.0M476.7 204.2V207.0M486.5 204.2V207.0M496.3 204.2V207.0M506.1 204.2V207.0M515.9 204.2V207.0M525.7 204.2V207.0M535.6 204.2V207.0M545.4 204.2V207.0M555.2 204.2V207.0M565.0 204.2V207.0"/></g>
<text x="310.4" y="207.9" font-size="9.4" text-anchor="end">0</text>
<text x="310.4" y="179.4" font-size="9.4" text-anchor="end">20</text>
<text x="310.4" y="150.9" font-size="9.4" text-anchor="end">40</text>
<text x="310.4" y="122.5" font-size="9.4" text-anchor="end">60</text>
<text x="310.4" y="94.0" font-size="9.4" text-anchor="end">80</text>
<text x="310.4" y="65.5" font-size="9.4" text-anchor="end">100</text>
<text x="310.4" y="37.0" font-size="9.4" text-anchor="end">120</text>
<text x="324.5" y="220.8" font-size="9.4" text-anchor="middle">0</text>
<text x="383.4" y="220.8" font-size="9.4" text-anchor="middle">12</text>
<text x="442.3" y="220.8" font-size="9.4" text-anchor="middle">24</text>
<text x="501.2" y="220.8" font-size="9.4" text-anchor="middle">36</text>
<text x="560.1" y="220.8" font-size="9.4" text-anchor="middle">48</text>
<text x="442.3" y="234.2" font-size="9.2" font-weight="bold" text-anchor="middle">time [h]</text>
<text transform="translate(288.7 119.2) rotate(-90)" font-size="10.1" font-weight="bold" text-anchor="middle">% of control [cell index]</text>
<path d="M324.5 60.5V64.4M322.9 60.5h3.2M322.9 64.4h3.2M334.3 89.4V97.1M332.7 89.4h3.2M332.7 97.1h3.2M344.1 83.8V90.2M342.5 83.8h3.2M342.5 90.2h3.2M354.0 77.9V84.3M352.4 77.9h3.2M352.4 84.3h3.2M363.8 73.2V79.6M362.2 73.2h3.2M362.2 79.6h3.2M373.6 69.1V75.5M372.0 69.1h3.2M372.0 75.5h3.2M383.4 66.0V72.4M381.8 66.0h3.2M381.8 72.4h3.2M393.2 63.0V69.4M391.6 63.0h3.2M391.6 69.4h3.2M403.0 61.5V67.9M401.4 61.5h3.2M401.4 67.9h3.2M412.9 60.0V66.4M411.3 60.0h3.2M411.3 66.4h3.2M422.7 59.4V65.0M421.1 59.4h3.2M421.1 65.0h3.2M432.5 59.2V64.3M430.9 59.2h3.2M430.9 64.3h3.2M442.3 60.3V64.1M440.7 60.3h3.2M440.7 64.1h3.2M452.1 60.2V63.3M450.5 60.2h3.2M450.5 63.3h3.2M461.9 60.5V63.0M460.3 60.5h3.2M460.3 63.0h3.2M471.7 56.6V66.9M470.1 56.6h3.2M470.1 66.9h3.2M481.6 59.5V63.4M480.0 59.5h3.2M480.0 63.4h3.2M491.4 60.3V62.3M489.8 60.3h3.2M489.8 62.3h3.2M501.2 60.3V61.8M499.6 60.3h3.2M499.6 61.8h3.2M511.0 60.3V61.8M509.4 60.3h3.2M509.4 61.8h3.2M520.8 60.3V61.8M519.2 60.3h3.2M519.2 61.8h3.2M530.6 60.3V61.8M529.0 60.3h3.2M529.0 61.8h3.2M540.5 60.4V61.9M538.9 60.4h3.2M538.9 61.9h3.2M550.3 61.0V63.6M548.7 61.0h3.2M548.7 63.6h3.2M560.1 60.1V61.7M558.5 60.1h3.2M558.5 61.7h3.2" stroke="#555" stroke-width="0.5" fill="none"/>
<path d="M324.5 60.8V65.5M322.9 60.8h3.2M322.9 65.5h3.2M334.3 92.2V101.6M332.7 92.2h3.2M332.7 101.6h3.2M344.1 87.3V95.2M342.5 87.3h3.2M342.5 95.2h3.2M354.0 82.8V90.6M352.4 82.8h3.2M352.4 90.6h3.2M363.8 78.2V86.0M362.2 78.2h3.2M362.2 86.0h3.2M373.6 74.8V82.6M372.0 74.8h3.2M372.0 82.6h3.2M383.4 72.5V80.3M381.8 72.5h3.2M381.8 80.3h3.2M393.2 68.5V76.4M391.6 68.5h3.2M391.6 76.4h3.2M403.0 65.5V73.4M401.4 65.5h3.2M401.4 73.4h3.2M412.9 63.2V71.1M411.3 63.2h3.2M411.3 71.1h3.2M422.7 61.4V68.3M421.1 61.4h3.2M421.1 68.3h3.2M432.5 60.2V66.5M430.9 60.2h3.2M430.9 66.5h3.2M442.3 60.3V65.0M440.7 60.3h3.2M440.7 65.0h3.2M452.1 60.2V63.9M450.5 60.2h3.2M450.5 63.9h3.2M461.9 60.2V63.3M460.3 60.2h3.2M460.3 63.3h3.2M471.7 55.5V68.0M470.1 55.5h3.2M470.1 68.0h3.2M481.6 59.3V64.0M480.0 59.3h3.2M480.0 64.0h3.2M491.4 60.1V62.6M489.8 60.1h3.2M489.8 62.6h3.2M501.2 60.1V62.0M499.6 60.1h3.2M499.6 62.0h3.2M511.0 60.1V62.0M509.4 60.1h3.2M509.4 62.0h3.2M520.8 60.1V62.0M519.2 60.1h3.2M519.2 62.0h3.2M530.6 60.1V62.0M529.0 60.1h3.2M529.0 62.0h3.2M540.5 60.2V62.1M538.9 60.2h3.2M538.9 62.1h3.2M550.3 60.9V64.0M548.7 60.9h3.2M548.7 64.0h3.2M560.1 60.0V61.8M558.5 60.0h3.2M558.5 61.8h3.2" stroke="#666" stroke-width="0.5" fill="none"/>
<path d="M324.5 61.8V66.0M322.9 61.8h3.2M322.9 66.0h3.2M334.3 95.0V103.5M332.7 95.0h3.2M332.7 103.5h3.2M344.1 90.7V97.8M342.5 90.7h3.2M342.5 97.8h3.2M354.0 86.5V93.7M352.4 86.5h3.2M352.4 93.7h3.2M363.8 82.6V89.7M362.2 82.6h3.2M362.2 89.7h3.2M373.6 79.3V86.4M372.0 79.3h3.2M372.0 86.4h3.2M383.4 76.3V83.4M381.8 76.3h3.2M381.8 83.4h3.2M393.2 72.9V80.0M391.6 72.9h3.2M391.6 80.0h3.2M403.0 69.9V77.0M401.4 69.9h3.2M401.4 77.0h3.2M412.9 67.0V74.1M411.3 67.0h3.2M411.3 74.1h3.2M422.7 64.5V70.7M421.1 64.5h3.2M421.1 70.7h3.2M432.5 62.0V67.7M430.9 62.0h3.2M430.9 67.7h3.2M442.3 61.2V65.5M440.7 61.2h3.2M440.7 65.5h3.2M452.1 60.6V64.0M450.5 60.6h3.2M450.5 64.0h3.2M461.9 60.5V63.3M460.3 60.5h3.2M460.3 63.3h3.2M471.7 56.0V67.4M470.1 56.0h3.2M470.1 67.4h3.2M481.6 59.5V63.7M480.0 59.5h3.2M480.0 63.7h3.2M491.4 60.2V62.5M489.8 60.2h3.2M489.8 62.5h3.2M501.2 60.2V61.9M499.6 60.2h3.2M499.6 61.9h3.2M511.0 60.2V61.9M509.4 60.2h3.2M509.4 61.9h3.2M520.8 60.2V61.9M519.2 60.2h3.2M519.2 61.9h3.2M530.6 60.2V61.9M529.0 60.2h3.2M529.0 61.9h3.2M540.5 60.3V62.0M538.9 60.3h3.2M538.9 62.0h3.2M550.3 61.0V63.9M548.7 61.0h3.2M548.7 63.9h3.2M560.1 60.0V61.8M558.5 60.0h3.2M558.5 61.8h3.2" stroke="#666" stroke-width="0.5" fill="none"/>
<path d="M324.5 63.9V68.2M322.9 63.9h3.2M322.9 68.2h3.2M334.3 99.5V108.1M332.7 99.5h3.2M332.7 108.1h3.2M344.1 96.8V103.9M342.5 96.8h3.2M342.5 103.9h3.2M354.0 93.4V100.5M352.4 93.4h3.2M352.4 100.5h3.2M363.8 88.8V96.0M362.2 88.8h3.2M362.2 96.0h3.2M373.6 85.4V92.5M372.0 85.4h3.2M372.0 92.5h3.2M383.4 82.0V89.1M381.8 82.0h3.2M381.8 89.1h3.2M393.2 78.1V85.3M391.6 78.1h3.2M391.6 85.3h3.2M403.0 75.9V83.0M401.4 75.9h3.2M401.4 83.0h3.2M412.9 72.2V79.3M411.3 72.2h3.2M411.3 79.3h3.2M422.7 68.7V75.0M421.1 68.7h3.2M421.1 75.0h3.2M432.5 66.0V71.7M430.9 66.0h3.2M430.9 71.7h3.2M442.3 63.9V68.2M440.7 63.9h3.2M440.7 68.2h3.2M452.1 62.6V66.0M450.5 62.6h3.2M450.5 66.0h3.2M461.9 61.8V64.6M460.3 61.8h3.2M460.3 64.6h3.2M471.7 56.9V68.3M470.1 56.9h3.2M470.1 68.3h3.2M481.6 60.2V64.5M480.0 60.2h3.2M480.0 64.5h3.2M491.4 60.6V62.9M489.8 60.6h3.2M489.8 62.9h3.2M501.2 60.5V62.2M499.6 60.5h3.2M499.6 62.2h3.2M511.0 60.3V62.0M509.4 60.3h3.2M509.4 62.0h3.2M520.8 60.3V62.0M519.2 60.3h3.2M519.2 62.0h3.2M530.6 60.3V62.0M529.0 60.3h3.2M529.0 62.0h3.2M540.5 60.5V62.2M538.9 60.5h3.2M538.9 62.2h3.2M550.3 61.5V64.3M548.7 61.5h3.2M548.7 64.3h3.2M560.1 60.2V61.9M558.5 60.2h3.2M558.5 61.9h3.2" stroke="#333" stroke-width="0.5" fill="none"/>
<path d="M324.5 63.9 L334.3 99.2 L344.1 94.2 L354.0 90.1 L363.8 86.1 L373.6 82.8 L383.4 79.8 L393.2 76.4 L403.0 73.4 L412.9 70.6 L422.7 67.6 L432.5 64.9 L442.3 63.3 L452.1 62.3 L461.9 61.9 L471.7 61.8 L481.6 61.6 L491.4 61.3 L501.2 61.0 L511.0 61.0 L520.8 61.0 L530.6 61.0 L540.5 61.2 L550.3 62.5 L560.1 60.9" stroke="#8c8c8c" stroke-width="0.8" stroke-dasharray="3.2 2.2" fill="none"/>
<path d="M324.5 63.2 L334.3 96.9 L344.1 91.2 L354.0 86.7 L363.8 82.1 L373.6 78.7 L383.4 76.4 L393.2 72.4 L403.0 69.4 L412.9 67.2 L422.7 64.9 L432.5 63.3 L442.3 62.6 L452.1 62.0 L461.9 61.8 L471.7 61.8 L481.6 61.6 L491.4 61.3 L501.2 61.0 L511.0 61.0 L520.8 61.0 L530.6 61.0 L540.5 61.2 L550.3 62.5 L560.1 60.9" stroke="#a0a0a0" stroke-width="1.0" fill="none"/>
<path d="M324.5 62.5 L334.3 93.2 L344.1 87.0 L354.0 81.1 L363.8 76.4 L373.6 72.3 L383.4 69.2 L393.2 66.2 L403.0 64.7 L412.9 63.2 L422.7 62.2 L432.5 61.8 L442.3 62.2 L452.1 61.8 L461.9 61.8 L471.7 61.8 L481.6 61.5 L491.4 61.3 L501.2 61.0 L511.0 61.0 L520.8 61.0 L530.6 61.0 L540.5 61.2 L550.3 62.3 L560.1 60.9" stroke="#333" stroke-width="0.9" stroke-dasharray="1.1 1.4" fill="none"/>
<path d="M324.5 66.0 L334.3 103.8 L344.1 100.4 L354.0 96.9 L363.8 92.4 L373.6 89.0 L383.4 85.5 L393.2 81.7 L403.0 79.4 L412.9 75.7 L422.7 71.9 L432.5 68.9 L442.3 66.0 L452.1 64.3 L461.9 63.2 L471.7 62.6 L481.6 62.3 L491.4 61.8 L501.2 61.3 L511.0 61.2 L520.8 61.2 L530.6 61.2 L540.5 61.3 L550.3 62.9 L560.1 61.0" stroke="#111" stroke-width="1.3" fill="none" stroke-linejoin="round"/>
<circle cx="561.0" cy="60.8" r="0.9" fill="#111"/>
<path d="M448 124.9H463.1" stroke="#111" stroke-width="1.3"/>
<path d="M448 138.7H463.1" stroke="#333" stroke-width="0.9" stroke-dasharray="1.1 1.4"/>
<path d="M449 152.4H462" stroke="#8c8c8c" stroke-width="0.9" stroke-dasharray="3.2 3.5"/>
<path d="M448 165.7H463.1" stroke="#a0a0a0" stroke-width="1.1"/>
<text x="470" y="128.6" font-size="10.5">Control</text>
<text x="470" y="142.4" font-size="10.5">20 µg/ cm²</text>
<text x="470" y="156.1" font-size="10.5">40 µg/ cm²</text>
<text x="470" y="169.4" font-size="10.5">80 µg/ cm²</text>
</svg></body></html>
